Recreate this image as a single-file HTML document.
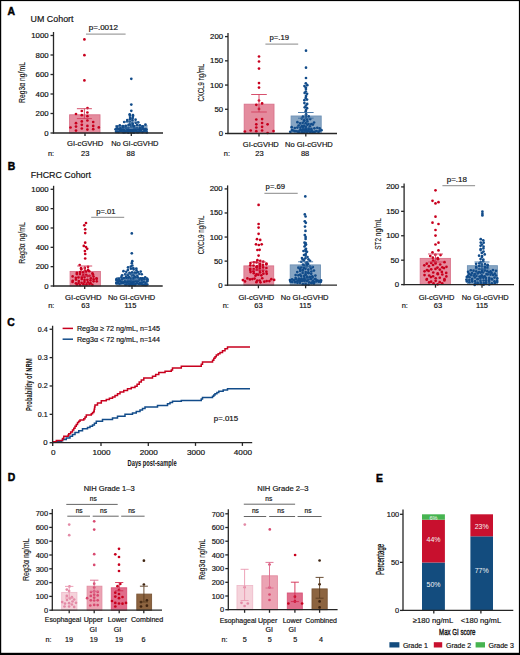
<!DOCTYPE html><html><head><meta charset="utf-8"><style>html,body{margin:0;padding:0;background:#fff;}svg{display:block;}</style></head><body>
<svg width="520" height="655" viewBox="0 0 520 655" font-family='"Liberation Sans", sans-serif'>
<rect x="0" y="0" width="520" height="655" fill="#fff"/>
<rect x="0" y="0" width="520" height="1.1" fill="#000"/><rect x="0" y="0" width="1.2" height="655" fill="#000"/><rect x="518.9" y="0" width="1.1" height="655" fill="#000"/><rect x="0" y="652.8" width="520" height="2.2" fill="#000"/>
<text x="7.5" y="15.1" font-size="10.4" text-anchor="start" fill="#000" font-weight="bold" stroke="#000" stroke-width="0.45">A</text>
<text x="7.8" y="170.3" font-size="10.4" text-anchor="start" fill="#000" font-weight="bold" stroke="#000" stroke-width="0.45">B</text>
<text x="7.2" y="325.5" font-size="10.4" text-anchor="start" fill="#000" font-weight="bold" stroke="#000" stroke-width="0.45">C</text>
<text x="7.8" y="481.2" font-size="10.4" text-anchor="start" fill="#000" font-weight="bold" stroke="#000" stroke-width="0.45">D</text>
<text x="376" y="481.8" font-size="10.4" text-anchor="start" fill="#000" font-weight="bold" stroke="#000" stroke-width="0.45">E</text>
<text x="30.6" y="21.9" font-size="8.9" text-anchor="start" fill="#111" font-weight="normal" stroke="#111" stroke-width="0.18" >UM Cohort</text>
<text x="30.8" y="177.8" font-size="8.9" text-anchor="start" fill="#111" font-weight="normal" stroke="#111" stroke-width="0.18" >FHCRC Cohort</text>
<rect x="69.6" y="114.8" width="30.4" height="18.2" fill="#e48c9e" stroke="#d9728a" stroke-width="0.9"/>
<rect x="115.8" y="125.5" width="31.2" height="7.5" fill="#87a5c3" stroke="#6f92b6" stroke-width="0.9"/>
<circle cx="84.4" cy="39.4" r="1.35" fill="#c8001e"/>
<circle cx="84.4" cy="55.2" r="1.35" fill="#c8001e"/>
<circle cx="84.4" cy="80.4" r="1.35" fill="#c8001e"/>
<circle cx="87.5" cy="108.1" r="1.35" fill="#c8001e"/>
<circle cx="70.5" cy="127.5" r="1.35" fill="#c8001e"/>
<circle cx="76" cy="130.6" r="1.35" fill="#c8001e"/>
<circle cx="76" cy="126.6" r="1.35" fill="#c8001e"/>
<circle cx="76" cy="123.2" r="1.35" fill="#c8001e"/>
<circle cx="76" cy="114" r="1.35" fill="#c8001e"/>
<circle cx="81.8" cy="111" r="1.35" fill="#c8001e"/>
<circle cx="81.8" cy="115.2" r="1.35" fill="#c8001e"/>
<circle cx="81.8" cy="121.4" r="1.35" fill="#c8001e"/>
<circle cx="81.8" cy="124.8" r="1.35" fill="#c8001e"/>
<circle cx="81.8" cy="128.5" r="1.35" fill="#c8001e"/>
<circle cx="87.4" cy="112.5" r="1.35" fill="#c8001e"/>
<circle cx="87.4" cy="116.2" r="1.35" fill="#c8001e"/>
<circle cx="87.4" cy="120.5" r="1.35" fill="#c8001e"/>
<circle cx="87.4" cy="125.9" r="1.35" fill="#c8001e"/>
<circle cx="87.4" cy="129.6" r="1.35" fill="#c8001e"/>
<circle cx="93.2" cy="122" r="1.35" fill="#c8001e"/>
<circle cx="93.2" cy="125.9" r="1.35" fill="#c8001e"/>
<circle cx="93.2" cy="129.2" r="1.35" fill="#c8001e"/>
<circle cx="98.8" cy="127.4" r="1.35" fill="#c8001e"/>
<circle cx="131.3" cy="78.8" r="1.35" fill="#124c8a"/>
<circle cx="131.3" cy="104.6" r="1.35" fill="#124c8a"/>
<circle cx="131.3" cy="110.8" r="1.35" fill="#124c8a"/>
<circle cx="129.7" cy="114.3" r="1.35" fill="#124c8a"/>
<circle cx="132.97" cy="115.22" r="1.35" fill="#124c8a"/>
<circle cx="129.88" cy="115.72" r="1.35" fill="#124c8a"/>
<circle cx="132.89" cy="116.86" r="1.35" fill="#124c8a"/>
<circle cx="130.13" cy="118.05" r="1.35" fill="#124c8a"/>
<circle cx="132.55" cy="118.42" r="1.35" fill="#124c8a"/>
<circle cx="127.28" cy="120.06" r="1.35" fill="#124c8a"/>
<circle cx="130.04" cy="119.16" r="1.35" fill="#124c8a"/>
<circle cx="132.45" cy="120.45" r="1.35" fill="#124c8a"/>
<circle cx="135.57" cy="119.67" r="1.35" fill="#124c8a"/>
<circle cx="124.2" cy="121.98" r="1.35" fill="#124c8a"/>
<circle cx="127.19" cy="121.24" r="1.35" fill="#124c8a"/>
<circle cx="129.8" cy="121.53" r="1.35" fill="#124c8a"/>
<circle cx="132.42" cy="123.24" r="1.35" fill="#124c8a"/>
<circle cx="135.77" cy="122.81" r="1.35" fill="#124c8a"/>
<circle cx="138.24" cy="122.3" r="1.35" fill="#124c8a"/>
<circle cx="129.88" cy="124.46" r="1.35" fill="#124c8a"/>
<circle cx="132.77" cy="124.01" r="1.35" fill="#124c8a"/>
<circle cx="117.09" cy="126.56" r="1.35" fill="#124c8a"/>
<circle cx="119.81" cy="125.38" r="1.35" fill="#124c8a"/>
<circle cx="122.93" cy="126.16" r="1.35" fill="#124c8a"/>
<circle cx="125.78" cy="125.74" r="1.35" fill="#124c8a"/>
<circle cx="128.57" cy="124.75" r="1.35" fill="#124c8a"/>
<circle cx="131.55" cy="125.51" r="1.35" fill="#124c8a"/>
<circle cx="134.11" cy="126.08" r="1.35" fill="#124c8a"/>
<circle cx="137.19" cy="124.96" r="1.35" fill="#124c8a"/>
<circle cx="139.91" cy="125.23" r="1.35" fill="#124c8a"/>
<circle cx="142.73" cy="126.45" r="1.35" fill="#124c8a"/>
<circle cx="145.46" cy="124.61" r="1.35" fill="#124c8a"/>
<circle cx="120.31" cy="128.45" r="1.35" fill="#124c8a"/>
<circle cx="122.92" cy="127.28" r="1.35" fill="#124c8a"/>
<circle cx="125.54" cy="127.56" r="1.35" fill="#124c8a"/>
<circle cx="128.43" cy="127.86" r="1.35" fill="#124c8a"/>
<circle cx="131.39" cy="126.82" r="1.35" fill="#124c8a"/>
<circle cx="134" cy="127.38" r="1.35" fill="#124c8a"/>
<circle cx="136.85" cy="128.16" r="1.35" fill="#124c8a"/>
<circle cx="139.79" cy="127.92" r="1.35" fill="#124c8a"/>
<circle cx="142.37" cy="127" r="1.35" fill="#124c8a"/>
<circle cx="115.5" cy="129.32" r="1.35" fill="#124c8a"/>
<circle cx="117.19" cy="128.69" r="1.35" fill="#124c8a"/>
<circle cx="118.83" cy="129" r="1.35" fill="#124c8a"/>
<circle cx="120.28" cy="128.85" r="1.35" fill="#124c8a"/>
<circle cx="121.86" cy="129.82" r="1.35" fill="#124c8a"/>
<circle cx="123.47" cy="129.54" r="1.35" fill="#124c8a"/>
<circle cx="124.37" cy="130.33" r="1.35" fill="#124c8a"/>
<circle cx="126.36" cy="128.6" r="1.35" fill="#124c8a"/>
<circle cx="127.75" cy="129.78" r="1.35" fill="#124c8a"/>
<circle cx="129.23" cy="130.27" r="1.35" fill="#124c8a"/>
<circle cx="130.49" cy="130.04" r="1.35" fill="#124c8a"/>
<circle cx="132.17" cy="130.19" r="1.35" fill="#124c8a"/>
<circle cx="133.5" cy="129.95" r="1.35" fill="#124c8a"/>
<circle cx="134.98" cy="128.93" r="1.35" fill="#124c8a"/>
<circle cx="136.19" cy="130.44" r="1.35" fill="#124c8a"/>
<circle cx="137.84" cy="129.4" r="1.35" fill="#124c8a"/>
<circle cx="139.48" cy="130.06" r="1.35" fill="#124c8a"/>
<circle cx="140.68" cy="129.42" r="1.35" fill="#124c8a"/>
<circle cx="142.63" cy="128.55" r="1.35" fill="#124c8a"/>
<circle cx="143.77" cy="129.22" r="1.35" fill="#124c8a"/>
<circle cx="145.44" cy="129.07" r="1.35" fill="#124c8a"/>
<circle cx="146.57" cy="129.64" r="1.35" fill="#124c8a"/>
<circle cx="116.06" cy="131.68" r="1.35" fill="#124c8a"/>
<circle cx="117.38" cy="131.6" r="1.35" fill="#124c8a"/>
<circle cx="118.53" cy="131.9" r="1.35" fill="#124c8a"/>
<circle cx="120.2" cy="130.97" r="1.35" fill="#124c8a"/>
<circle cx="121.56" cy="131.25" r="1.35" fill="#124c8a"/>
<circle cx="123.37" cy="132.37" r="1.35" fill="#124c8a"/>
<circle cx="124.72" cy="132.27" r="1.35" fill="#124c8a"/>
<circle cx="126.15" cy="131.46" r="1.35" fill="#124c8a"/>
<circle cx="127.75" cy="131.1" r="1.35" fill="#124c8a"/>
<circle cx="129.14" cy="130.8" r="1.35" fill="#124c8a"/>
<circle cx="130.61" cy="130.99" r="1.35" fill="#124c8a"/>
<circle cx="131.76" cy="131.42" r="1.35" fill="#124c8a"/>
<circle cx="133.29" cy="132" r="1.35" fill="#124c8a"/>
<circle cx="134.75" cy="130.66" r="1.35" fill="#124c8a"/>
<circle cx="136.49" cy="131.88" r="1.35" fill="#124c8a"/>
<circle cx="137.93" cy="132.17" r="1.35" fill="#124c8a"/>
<circle cx="139.54" cy="131.74" r="1.35" fill="#124c8a"/>
<circle cx="140.8" cy="130.7" r="1.35" fill="#124c8a"/>
<circle cx="142.38" cy="132.08" r="1.35" fill="#124c8a"/>
<circle cx="144.11" cy="131.23" r="1.35" fill="#124c8a"/>
<circle cx="145.06" cy="130.58" r="1.35" fill="#124c8a"/>
<circle cx="146.84" cy="132.46" r="1.35" fill="#124c8a"/>
<circle cx="128.32" cy="132.73" r="1.35" fill="#124c8a"/>
<circle cx="131.55" cy="132.58" r="1.35" fill="#124c8a"/>
<circle cx="133.88" cy="132.69" r="1.35" fill="#124c8a"/>
<line x1="84.4" y1="108.7" x2="84.4" y2="118.6" stroke="#d0405c" stroke-width="0.9"/>
<line x1="76.9" y1="108.7" x2="91.9" y2="108.7" stroke="#d0405c" stroke-width="0.9"/>
<line x1="76.9" y1="118.6" x2="91.9" y2="118.6" stroke="#d0405c" stroke-width="0.9"/>
<line x1="131.3" y1="122" x2="131.3" y2="128" stroke="#3c6ea0" stroke-width="0.9"/>
<line x1="123.8" y1="122" x2="138.8" y2="122" stroke="#3c6ea0" stroke-width="0.9"/>
<line x1="123.8" y1="128" x2="138.8" y2="128" stroke="#3c6ea0" stroke-width="0.9"/>
<line x1="53.5" y1="32" x2="53.5" y2="133.6" stroke="#262626" stroke-width="1.3"/>
<line x1="50.5" y1="133" x2="53.5" y2="133" stroke="#262626" stroke-width="1.3"/>
<text x="48.6" y="135.5" font-size="7.1" text-anchor="end" fill="#111" font-weight="normal" textLength="4.34" lengthAdjust="spacingAndGlyphs" stroke="#111" stroke-width="0.18" >0</text>
<line x1="50.5" y1="113.5" x2="53.5" y2="113.5" stroke="#262626" stroke-width="1.3"/>
<text x="48.6" y="116" font-size="7.1" text-anchor="end" fill="#111" font-weight="normal" textLength="13.03" lengthAdjust="spacingAndGlyphs" stroke="#111" stroke-width="0.18" >200</text>
<line x1="50.5" y1="94" x2="53.5" y2="94" stroke="#262626" stroke-width="1.3"/>
<text x="48.6" y="96.5" font-size="7.1" text-anchor="end" fill="#111" font-weight="normal" textLength="13.03" lengthAdjust="spacingAndGlyphs" stroke="#111" stroke-width="0.18" >400</text>
<line x1="50.5" y1="74.5" x2="53.5" y2="74.5" stroke="#262626" stroke-width="1.3"/>
<text x="48.6" y="77" font-size="7.1" text-anchor="end" fill="#111" font-weight="normal" textLength="13.03" lengthAdjust="spacingAndGlyphs" stroke="#111" stroke-width="0.18" >600</text>
<line x1="50.5" y1="55" x2="53.5" y2="55" stroke="#262626" stroke-width="1.3"/>
<text x="48.6" y="57.5" font-size="7.1" text-anchor="end" fill="#111" font-weight="normal" textLength="13.03" lengthAdjust="spacingAndGlyphs" stroke="#111" stroke-width="0.18" >800</text>
<line x1="50.5" y1="35.5" x2="53.5" y2="35.5" stroke="#262626" stroke-width="1.3"/>
<text x="48.6" y="38" font-size="7.1" text-anchor="end" fill="#111" font-weight="normal" textLength="17.37" lengthAdjust="spacingAndGlyphs" stroke="#111" stroke-width="0.18" >1000</text>
<line x1="52.9" y1="133" x2="163" y2="133" stroke="#262626" stroke-width="1.3"/>
<line x1="85" y1="133" x2="85" y2="136.1" stroke="#262626" stroke-width="1.3"/>
<line x1="131.3" y1="133" x2="131.3" y2="136.1" stroke="#262626" stroke-width="1.3"/>
<line x1="86" y1="34.1" x2="125.6" y2="34.1" stroke="#a0a0a0" stroke-width="1.3"/>
<text x="88.7" y="30.4" font-size="7.6" text-anchor="start" fill="#111" font-weight="normal" textLength="29.4" lengthAdjust="spacingAndGlyphs" stroke="#111" stroke-width="0.18" >p=.0012</text>
<text transform="translate(25.1,82.5) rotate(-90)" x="0" y="0" font-size="9.9" font-weight="normal" stroke="#111" stroke-width="0.12" text-anchor="middle" fill="#111" textLength="40.8" lengthAdjust="spacingAndGlyphs">Reg3α ng/mL</text>
<text x="85.2" y="146.2" font-size="7.5" text-anchor="middle" fill="#111" font-weight="normal" textLength="36.2" lengthAdjust="spacingAndGlyphs" stroke="#111" stroke-width="0.18" >GI-cGVHD</text>
<text x="134.85" y="146.2" font-size="7.5" text-anchor="middle" fill="#111" font-weight="normal" textLength="47.3" lengthAdjust="spacingAndGlyphs" stroke="#111" stroke-width="0.18" >No GI-cGVHD</text>
<text x="47.9" y="155.8" font-size="7.4" text-anchor="start" fill="#111" font-weight="normal" stroke="#111" stroke-width="0.18" >n:</text>
<text x="85.2" y="155.8" font-size="7.5" text-anchor="middle" fill="#111" font-weight="normal" stroke="#111" stroke-width="0.18" >23</text>
<text x="130.7" y="155.8" font-size="7.5" text-anchor="middle" fill="#111" font-weight="normal" stroke="#111" stroke-width="0.18" >88</text>
<rect x="244.2" y="104.2" width="29.8" height="29.3" fill="#e48c9e" stroke="#d9728a" stroke-width="0.9"/>
<rect x="291.1" y="116" width="30.1" height="17.5" fill="#87a5c3" stroke="#6f92b6" stroke-width="0.9"/>
<circle cx="259" cy="56.5" r="1.35" fill="#c8001e"/>
<circle cx="259" cy="61.5" r="1.35" fill="#c8001e"/>
<circle cx="259" cy="68.6" r="1.35" fill="#c8001e"/>
<circle cx="259" cy="83.1" r="1.35" fill="#c8001e"/>
<circle cx="259" cy="87.6" r="1.35" fill="#c8001e"/>
<circle cx="259" cy="100.5" r="1.35" fill="#c8001e"/>
<circle cx="256.3" cy="104.8" r="1.35" fill="#c8001e"/>
<circle cx="262.1" cy="103.4" r="1.35" fill="#c8001e"/>
<circle cx="259" cy="108.9" r="1.35" fill="#c8001e"/>
<circle cx="256.3" cy="119.5" r="1.35" fill="#c8001e"/>
<circle cx="262.1" cy="119.1" r="1.35" fill="#c8001e"/>
<circle cx="256.3" cy="124.3" r="1.35" fill="#c8001e"/>
<circle cx="262.1" cy="123" r="1.35" fill="#c8001e"/>
<circle cx="267.6" cy="124.3" r="1.35" fill="#c8001e"/>
<circle cx="256.3" cy="127.5" r="1.35" fill="#c8001e"/>
<circle cx="262.1" cy="126.8" r="1.35" fill="#c8001e"/>
<circle cx="244.9" cy="131.5" r="1.35" fill="#c8001e"/>
<circle cx="250.7" cy="130.5" r="1.35" fill="#c8001e"/>
<circle cx="256.3" cy="131.2" r="1.35" fill="#c8001e"/>
<circle cx="262.1" cy="130.5" r="1.35" fill="#c8001e"/>
<circle cx="267.6" cy="133" r="1.35" fill="#c8001e"/>
<circle cx="273.5" cy="131" r="1.35" fill="#c8001e"/>
<circle cx="306" cy="50.7" r="1.35" fill="#124c8a"/>
<circle cx="306" cy="67.7" r="1.35" fill="#124c8a"/>
<circle cx="306" cy="78" r="1.35" fill="#124c8a"/>
<circle cx="305.83" cy="83.36" r="1.35" fill="#124c8a"/>
<circle cx="304.47" cy="86.1" r="1.35" fill="#124c8a"/>
<circle cx="307.28" cy="85.18" r="1.35" fill="#124c8a"/>
<circle cx="305.81" cy="87.49" r="1.35" fill="#124c8a"/>
<circle cx="305.94" cy="89.03" r="1.35" fill="#124c8a"/>
<circle cx="305.85" cy="91.48" r="1.35" fill="#124c8a"/>
<circle cx="304.66" cy="92.91" r="1.35" fill="#124c8a"/>
<circle cx="307.07" cy="93.86" r="1.35" fill="#124c8a"/>
<circle cx="306.03" cy="95.94" r="1.35" fill="#124c8a"/>
<circle cx="305.72" cy="97.92" r="1.35" fill="#124c8a"/>
<circle cx="304.38" cy="100.2" r="1.35" fill="#124c8a"/>
<circle cx="307.03" cy="99.56" r="1.35" fill="#124c8a"/>
<circle cx="304.42" cy="103.08" r="1.35" fill="#124c8a"/>
<circle cx="307.19" cy="103.97" r="1.35" fill="#124c8a"/>
<circle cx="305.93" cy="105.57" r="1.35" fill="#124c8a"/>
<circle cx="304.73" cy="107.33" r="1.35" fill="#124c8a"/>
<circle cx="307.07" cy="108.2" r="1.35" fill="#124c8a"/>
<circle cx="306" cy="110.08" r="1.35" fill="#124c8a"/>
<circle cx="305.68" cy="111.62" r="1.35" fill="#124c8a"/>
<circle cx="306.08" cy="114.22" r="1.35" fill="#124c8a"/>
<circle cx="305.86" cy="115.84" r="1.35" fill="#124c8a"/>
<circle cx="302.93" cy="116.68" r="1.35" fill="#124c8a"/>
<circle cx="305.88" cy="117.92" r="1.35" fill="#124c8a"/>
<circle cx="308.68" cy="116.41" r="1.35" fill="#124c8a"/>
<circle cx="301.72" cy="118.58" r="1.35" fill="#124c8a"/>
<circle cx="304.17" cy="120.31" r="1.35" fill="#124c8a"/>
<circle cx="307.18" cy="119.42" r="1.35" fill="#124c8a"/>
<circle cx="310.27" cy="119.12" r="1.35" fill="#124c8a"/>
<circle cx="304.22" cy="120.75" r="1.35" fill="#124c8a"/>
<circle cx="307.39" cy="121.47" r="1.35" fill="#124c8a"/>
<circle cx="297.39" cy="122.13" r="1.35" fill="#124c8a"/>
<circle cx="300.16" cy="123.44" r="1.35" fill="#124c8a"/>
<circle cx="302.75" cy="122.79" r="1.35" fill="#124c8a"/>
<circle cx="305.62" cy="123.17" r="1.35" fill="#124c8a"/>
<circle cx="308.53" cy="124.02" r="1.35" fill="#124c8a"/>
<circle cx="311.34" cy="124.15" r="1.35" fill="#124c8a"/>
<circle cx="314.06" cy="122.52" r="1.35" fill="#124c8a"/>
<circle cx="298.61" cy="125.51" r="1.35" fill="#124c8a"/>
<circle cx="301.77" cy="125.95" r="1.35" fill="#124c8a"/>
<circle cx="304.15" cy="125.72" r="1.35" fill="#124c8a"/>
<circle cx="307.34" cy="124.87" r="1.35" fill="#124c8a"/>
<circle cx="309.85" cy="126.3" r="1.35" fill="#124c8a"/>
<circle cx="312.91" cy="124.57" r="1.35" fill="#124c8a"/>
<circle cx="305.9" cy="126.78" r="1.35" fill="#124c8a"/>
<circle cx="291.66" cy="127.16" r="1.35" fill="#124c8a"/>
<circle cx="294.8" cy="127.99" r="1.35" fill="#124c8a"/>
<circle cx="297.4" cy="127.54" r="1.35" fill="#124c8a"/>
<circle cx="300.42" cy="127.67" r="1.35" fill="#124c8a"/>
<circle cx="303.07" cy="127.22" r="1.35" fill="#124c8a"/>
<circle cx="305.59" cy="128.53" r="1.35" fill="#124c8a"/>
<circle cx="308.53" cy="128.69" r="1.35" fill="#124c8a"/>
<circle cx="311.38" cy="128.91" r="1.35" fill="#124c8a"/>
<circle cx="314.39" cy="128.3" r="1.35" fill="#124c8a"/>
<circle cx="317.26" cy="127.75" r="1.35" fill="#124c8a"/>
<circle cx="319.61" cy="128.4" r="1.35" fill="#124c8a"/>
<circle cx="300.49" cy="129.74" r="1.35" fill="#124c8a"/>
<circle cx="303" cy="129.45" r="1.35" fill="#124c8a"/>
<circle cx="305.75" cy="129.31" r="1.35" fill="#124c8a"/>
<circle cx="308.7" cy="129.21" r="1.35" fill="#124c8a"/>
<circle cx="311.38" cy="129.97" r="1.35" fill="#124c8a"/>
<circle cx="290.28" cy="131.84" r="1.35" fill="#124c8a"/>
<circle cx="292.02" cy="130.1" r="1.35" fill="#124c8a"/>
<circle cx="293.15" cy="130.49" r="1.35" fill="#124c8a"/>
<circle cx="294.81" cy="131.14" r="1.35" fill="#124c8a"/>
<circle cx="296.6" cy="131.25" r="1.35" fill="#124c8a"/>
<circle cx="298.22" cy="131.65" r="1.35" fill="#124c8a"/>
<circle cx="299.73" cy="130.57" r="1.35" fill="#124c8a"/>
<circle cx="301.44" cy="130.3" r="1.35" fill="#124c8a"/>
<circle cx="302.42" cy="131.68" r="1.35" fill="#124c8a"/>
<circle cx="304.49" cy="130.33" r="1.35" fill="#124c8a"/>
<circle cx="305.82" cy="130.71" r="1.35" fill="#124c8a"/>
<circle cx="307.27" cy="130.76" r="1.35" fill="#124c8a"/>
<circle cx="308.73" cy="131.21" r="1.35" fill="#124c8a"/>
<circle cx="310.23" cy="131.97" r="1.35" fill="#124c8a"/>
<circle cx="312.25" cy="131.41" r="1.35" fill="#124c8a"/>
<circle cx="313.83" cy="132.05" r="1.35" fill="#124c8a"/>
<circle cx="315.22" cy="131.55" r="1.35" fill="#124c8a"/>
<circle cx="316.57" cy="131.01" r="1.35" fill="#124c8a"/>
<circle cx="318.45" cy="132.09" r="1.35" fill="#124c8a"/>
<circle cx="319.61" cy="130.85" r="1.35" fill="#124c8a"/>
<circle cx="321.47" cy="130.16" r="1.35" fill="#124c8a"/>
<circle cx="298.89" cy="132.6" r="1.35" fill="#124c8a"/>
<circle cx="301.61" cy="132.53" r="1.35" fill="#124c8a"/>
<circle cx="304.33" cy="132.28" r="1.35" fill="#124c8a"/>
<circle cx="306.99" cy="132.44" r="1.35" fill="#124c8a"/>
<circle cx="309.99" cy="132.77" r="1.35" fill="#124c8a"/>
<circle cx="313" cy="132.26" r="1.35" fill="#124c8a"/>
<line x1="259" y1="94.5" x2="259" y2="112" stroke="#d23c5c" stroke-width="0.9"/>
<line x1="251.2" y1="94.5" x2="266.8" y2="94.5" stroke="#d23c5c" stroke-width="0.9"/>
<line x1="251.2" y1="112" x2="266.8" y2="112" stroke="#d23c5c" stroke-width="0.9"/>
<line x1="305.8" y1="112.5" x2="305.8" y2="118.2" stroke="#3c6ea0" stroke-width="0.9"/>
<line x1="298" y1="112.5" x2="313.6" y2="112.5" stroke="#3c6ea0" stroke-width="0.9"/>
<line x1="298" y1="118.2" x2="313.6" y2="118.2" stroke="#3c6ea0" stroke-width="0.9"/>
<line x1="228" y1="33.1" x2="228" y2="134.1" stroke="#262626" stroke-width="1.3"/>
<line x1="225" y1="133.5" x2="228" y2="133.5" stroke="#262626" stroke-width="1.3"/>
<text x="223.1" y="136" font-size="7.1" text-anchor="end" fill="#111" font-weight="normal" textLength="4.34" lengthAdjust="spacingAndGlyphs" stroke="#111" stroke-width="0.18" >0</text>
<line x1="225" y1="109.28" x2="228" y2="109.28" stroke="#262626" stroke-width="1.3"/>
<text x="223.1" y="111.78" font-size="7.1" text-anchor="end" fill="#111" font-weight="normal" textLength="8.68" lengthAdjust="spacingAndGlyphs" stroke="#111" stroke-width="0.18" >50</text>
<line x1="225" y1="85.05" x2="228" y2="85.05" stroke="#262626" stroke-width="1.3"/>
<text x="223.1" y="87.55" font-size="7.1" text-anchor="end" fill="#111" font-weight="normal" textLength="13.03" lengthAdjust="spacingAndGlyphs" stroke="#111" stroke-width="0.18" >100</text>
<line x1="225" y1="60.83" x2="228" y2="60.83" stroke="#262626" stroke-width="1.3"/>
<text x="223.1" y="63.33" font-size="7.1" text-anchor="end" fill="#111" font-weight="normal" textLength="13.03" lengthAdjust="spacingAndGlyphs" stroke="#111" stroke-width="0.18" >150</text>
<line x1="225" y1="36.6" x2="228" y2="36.6" stroke="#262626" stroke-width="1.3"/>
<text x="223.1" y="39.1" font-size="7.1" text-anchor="end" fill="#111" font-weight="normal" textLength="13.03" lengthAdjust="spacingAndGlyphs" stroke="#111" stroke-width="0.18" >200</text>
<line x1="227.4" y1="133.5" x2="337" y2="133.5" stroke="#262626" stroke-width="1.3"/>
<line x1="259" y1="133.5" x2="259" y2="136.6" stroke="#262626" stroke-width="1.3"/>
<line x1="305.8" y1="133.5" x2="305.8" y2="136.6" stroke="#262626" stroke-width="1.3"/>
<line x1="265.4" y1="44.2" x2="298.2" y2="44.2" stroke="#a0a0a0" stroke-width="1.3"/>
<text x="269.5" y="40.3" font-size="7.6" text-anchor="start" fill="#111" font-weight="normal" textLength="19.5" lengthAdjust="spacingAndGlyphs" stroke="#111" stroke-width="0.18" >p=.19</text>
<text transform="translate(204,82.7) rotate(-90)" x="0" y="0" font-size="9.9" font-weight="normal" stroke="#111" stroke-width="0.12" text-anchor="middle" fill="#111" textLength="37.8" lengthAdjust="spacingAndGlyphs">CXCL9 ng/mL</text>
<text x="260.8" y="146.5" font-size="7.5" text-anchor="middle" fill="#111" font-weight="normal" textLength="36" lengthAdjust="spacingAndGlyphs" stroke="#111" stroke-width="0.18" >GI-cGVHD</text>
<text x="308.9" y="146.5" font-size="7.5" text-anchor="middle" fill="#111" font-weight="normal" textLength="47.8" lengthAdjust="spacingAndGlyphs" stroke="#111" stroke-width="0.18" >No GI-cGVHD</text>
<text x="223.8" y="156" font-size="7.4" text-anchor="start" fill="#111" font-weight="normal" stroke="#111" stroke-width="0.18" >n:</text>
<text x="259.5" y="156" font-size="7.5" text-anchor="middle" fill="#111" font-weight="normal" stroke="#111" stroke-width="0.18" >23</text>
<text x="305.1" y="156" font-size="7.5" text-anchor="middle" fill="#111" font-weight="normal" stroke="#111" stroke-width="0.18" >88</text>
<rect x="70.1" y="271.5" width="30.3" height="14.5" fill="#e48c9e" stroke="#d9728a" stroke-width="0.9"/>
<rect x="117" y="277.5" width="30.2" height="8.5" fill="#87a5c3" stroke="#6f92b6" stroke-width="0.9"/>
<circle cx="86" cy="223" r="1.35" fill="#c8001e"/>
<circle cx="84.3" cy="225.3" r="1.35" fill="#c8001e"/>
<circle cx="85.2" cy="229.3" r="1.35" fill="#c8001e"/>
<circle cx="85.2" cy="233.1" r="1.35" fill="#c8001e"/>
<circle cx="85.2" cy="242.7" r="1.35" fill="#c8001e"/>
<circle cx="83.8" cy="245.9" r="1.35" fill="#c8001e"/>
<circle cx="86" cy="247.1" r="1.35" fill="#c8001e"/>
<circle cx="87.2" cy="248.8" r="1.35" fill="#c8001e"/>
<circle cx="84.9" cy="251.1" r="1.35" fill="#c8001e"/>
<circle cx="85.2" cy="254" r="1.35" fill="#c8001e"/>
<circle cx="85.2" cy="258.5" r="1.35" fill="#c8001e"/>
<circle cx="79.7" cy="265" r="1.35" fill="#c8001e"/>
<circle cx="81.1" cy="268.14" r="1.35" fill="#c8001e"/>
<circle cx="84.79" cy="267.89" r="1.35" fill="#c8001e"/>
<circle cx="88.01" cy="266.79" r="1.35" fill="#c8001e"/>
<circle cx="81.33" cy="269.38" r="1.35" fill="#c8001e"/>
<circle cx="84.92" cy="270.48" r="1.35" fill="#c8001e"/>
<circle cx="88.1" cy="269.93" r="1.35" fill="#c8001e"/>
<circle cx="76.89" cy="272.84" r="1.35" fill="#c8001e"/>
<circle cx="80.1" cy="272.03" r="1.35" fill="#c8001e"/>
<circle cx="83.02" cy="272.47" r="1.35" fill="#c8001e"/>
<circle cx="86.08" cy="271.56" r="1.35" fill="#c8001e"/>
<circle cx="89.3" cy="271.25" r="1.35" fill="#c8001e"/>
<circle cx="92.43" cy="273.3" r="1.35" fill="#c8001e"/>
<circle cx="76.8" cy="274.07" r="1.35" fill="#c8001e"/>
<circle cx="79.99" cy="273.91" r="1.35" fill="#c8001e"/>
<circle cx="83.19" cy="275.32" r="1.35" fill="#c8001e"/>
<circle cx="86.19" cy="274.83" r="1.35" fill="#c8001e"/>
<circle cx="89.51" cy="275.87" r="1.35" fill="#c8001e"/>
<circle cx="92.97" cy="274.54" r="1.35" fill="#c8001e"/>
<circle cx="72.63" cy="276.38" r="1.35" fill="#c8001e"/>
<circle cx="75.83" cy="277.86" r="1.35" fill="#c8001e"/>
<circle cx="78.49" cy="277.42" r="1.35" fill="#c8001e"/>
<circle cx="81.87" cy="277.36" r="1.35" fill="#c8001e"/>
<circle cx="84.57" cy="277.11" r="1.35" fill="#c8001e"/>
<circle cx="87.59" cy="276.09" r="1.35" fill="#c8001e"/>
<circle cx="90.89" cy="278.23" r="1.35" fill="#c8001e"/>
<circle cx="93.52" cy="276.59" r="1.35" fill="#c8001e"/>
<circle cx="96.44" cy="278.4" r="1.35" fill="#c8001e"/>
<circle cx="72.69" cy="280.77" r="1.35" fill="#c8001e"/>
<circle cx="75.98" cy="279.58" r="1.35" fill="#c8001e"/>
<circle cx="78.81" cy="281.01" r="1.35" fill="#c8001e"/>
<circle cx="81.72" cy="279.04" r="1.35" fill="#c8001e"/>
<circle cx="84.54" cy="279.95" r="1.35" fill="#c8001e"/>
<circle cx="87.42" cy="279.79" r="1.35" fill="#c8001e"/>
<circle cx="90.47" cy="280.39" r="1.35" fill="#c8001e"/>
<circle cx="93.65" cy="279.24" r="1.35" fill="#c8001e"/>
<circle cx="96.73" cy="278.74" r="1.35" fill="#c8001e"/>
<circle cx="72.54" cy="281.92" r="1.35" fill="#c8001e"/>
<circle cx="75.99" cy="283.36" r="1.35" fill="#c8001e"/>
<circle cx="78.64" cy="283.01" r="1.35" fill="#c8001e"/>
<circle cx="81.54" cy="282.73" r="1.35" fill="#c8001e"/>
<circle cx="84.46" cy="282.02" r="1.35" fill="#c8001e"/>
<circle cx="87.8" cy="282.24" r="1.35" fill="#c8001e"/>
<circle cx="90.51" cy="283.22" r="1.35" fill="#c8001e"/>
<circle cx="93.6" cy="281.37" r="1.35" fill="#c8001e"/>
<circle cx="96.75" cy="281.31" r="1.35" fill="#c8001e"/>
<circle cx="76.98" cy="284.65" r="1.35" fill="#c8001e"/>
<circle cx="80.05" cy="285.02" r="1.35" fill="#c8001e"/>
<circle cx="83.47" cy="284.16" r="1.35" fill="#c8001e"/>
<circle cx="86.5" cy="284.45" r="1.35" fill="#c8001e"/>
<circle cx="89.46" cy="283.89" r="1.35" fill="#c8001e"/>
<circle cx="92.37" cy="284.97" r="1.35" fill="#c8001e"/>
<circle cx="131.8" cy="233.4" r="1.35" fill="#124c8a"/>
<circle cx="131.8" cy="253.3" r="1.35" fill="#124c8a"/>
<circle cx="132.3" cy="261.2" r="1.35" fill="#124c8a"/>
<circle cx="131.8" cy="263.2" r="1.35" fill="#124c8a"/>
<circle cx="132.3" cy="265.5" r="1.35" fill="#124c8a"/>
<circle cx="128.06" cy="267.37" r="1.35" fill="#124c8a"/>
<circle cx="130.77" cy="266.58" r="1.35" fill="#124c8a"/>
<circle cx="133.3" cy="268.07" r="1.35" fill="#124c8a"/>
<circle cx="136.34" cy="268.58" r="1.35" fill="#124c8a"/>
<circle cx="127.88" cy="269.88" r="1.35" fill="#124c8a"/>
<circle cx="130.88" cy="268.76" r="1.35" fill="#124c8a"/>
<circle cx="133.62" cy="269.42" r="1.35" fill="#124c8a"/>
<circle cx="136.48" cy="270.47" r="1.35" fill="#124c8a"/>
<circle cx="123.47" cy="271.21" r="1.35" fill="#124c8a"/>
<circle cx="126.3" cy="271.83" r="1.35" fill="#124c8a"/>
<circle cx="129.42" cy="272.88" r="1.35" fill="#124c8a"/>
<circle cx="132.08" cy="272.46" r="1.35" fill="#124c8a"/>
<circle cx="134.64" cy="272.55" r="1.35" fill="#124c8a"/>
<circle cx="137.8" cy="272.02" r="1.35" fill="#124c8a"/>
<circle cx="140.68" cy="271.59" r="1.35" fill="#124c8a"/>
<circle cx="122.05" cy="275.37" r="1.35" fill="#124c8a"/>
<circle cx="125.16" cy="274.34" r="1.35" fill="#124c8a"/>
<circle cx="127.84" cy="274.97" r="1.35" fill="#124c8a"/>
<circle cx="130.48" cy="273.65" r="1.35" fill="#124c8a"/>
<circle cx="133.32" cy="274.64" r="1.35" fill="#124c8a"/>
<circle cx="135.92" cy="273.22" r="1.35" fill="#124c8a"/>
<circle cx="139.24" cy="273.87" r="1.35" fill="#124c8a"/>
<circle cx="141.72" cy="274.26" r="1.35" fill="#124c8a"/>
<circle cx="126.18" cy="276.63" r="1.35" fill="#124c8a"/>
<circle cx="129.31" cy="276.93" r="1.35" fill="#124c8a"/>
<circle cx="131.87" cy="275.56" r="1.35" fill="#124c8a"/>
<circle cx="134.53" cy="276.35" r="1.35" fill="#124c8a"/>
<circle cx="137.32" cy="275.85" r="1.35" fill="#124c8a"/>
<circle cx="116.48" cy="279.14" r="1.35" fill="#124c8a"/>
<circle cx="119.02" cy="278.83" r="1.35" fill="#124c8a"/>
<circle cx="121.4" cy="277.11" r="1.35" fill="#124c8a"/>
<circle cx="123.91" cy="278.07" r="1.35" fill="#124c8a"/>
<circle cx="126.25" cy="277.81" r="1.35" fill="#124c8a"/>
<circle cx="128.2" cy="277.72" r="1.35" fill="#124c8a"/>
<circle cx="130.69" cy="278.56" r="1.35" fill="#124c8a"/>
<circle cx="133.22" cy="278.19" r="1.35" fill="#124c8a"/>
<circle cx="135.51" cy="277.41" r="1.35" fill="#124c8a"/>
<circle cx="137.74" cy="277.47" r="1.35" fill="#124c8a"/>
<circle cx="140.58" cy="278.43" r="1.35" fill="#124c8a"/>
<circle cx="142.51" cy="278.23" r="1.35" fill="#124c8a"/>
<circle cx="145.18" cy="277.25" r="1.35" fill="#124c8a"/>
<circle cx="147.26" cy="278.92" r="1.35" fill="#124c8a"/>
<circle cx="116.53" cy="280.2" r="1.35" fill="#124c8a"/>
<circle cx="119.49" cy="280.4" r="1.35" fill="#124c8a"/>
<circle cx="122.1" cy="279.43" r="1.35" fill="#124c8a"/>
<circle cx="125.13" cy="280.96" r="1.35" fill="#124c8a"/>
<circle cx="128.01" cy="280.56" r="1.35" fill="#124c8a"/>
<circle cx="130.83" cy="280.27" r="1.35" fill="#124c8a"/>
<circle cx="133.24" cy="279.52" r="1.35" fill="#124c8a"/>
<circle cx="136.08" cy="280.83" r="1.35" fill="#124c8a"/>
<circle cx="139.04" cy="279.63" r="1.35" fill="#124c8a"/>
<circle cx="141.68" cy="280.06" r="1.35" fill="#124c8a"/>
<circle cx="144.38" cy="279.25" r="1.35" fill="#124c8a"/>
<circle cx="147.59" cy="279.8" r="1.35" fill="#124c8a"/>
<circle cx="116.38" cy="282.54" r="1.35" fill="#124c8a"/>
<circle cx="118.03" cy="281.68" r="1.35" fill="#124c8a"/>
<circle cx="120.33" cy="281.27" r="1.35" fill="#124c8a"/>
<circle cx="121.85" cy="282.45" r="1.35" fill="#124c8a"/>
<circle cx="123.66" cy="282.31" r="1.35" fill="#124c8a"/>
<circle cx="125.58" cy="282.15" r="1.35" fill="#124c8a"/>
<circle cx="127.5" cy="282.01" r="1.35" fill="#124c8a"/>
<circle cx="129.45" cy="281.41" r="1.35" fill="#124c8a"/>
<circle cx="131.02" cy="282.24" r="1.35" fill="#124c8a"/>
<circle cx="133.11" cy="281.9" r="1.35" fill="#124c8a"/>
<circle cx="134.65" cy="281.59" r="1.35" fill="#124c8a"/>
<circle cx="136.74" cy="281.49" r="1.35" fill="#124c8a"/>
<circle cx="138.13" cy="281.03" r="1.35" fill="#124c8a"/>
<circle cx="139.93" cy="282.81" r="1.35" fill="#124c8a"/>
<circle cx="141.78" cy="282.63" r="1.35" fill="#124c8a"/>
<circle cx="143.67" cy="281.8" r="1.35" fill="#124c8a"/>
<circle cx="145.53" cy="282.93" r="1.35" fill="#124c8a"/>
<circle cx="147.33" cy="281.21" r="1.35" fill="#124c8a"/>
<circle cx="116.36" cy="283.41" r="1.35" fill="#124c8a"/>
<circle cx="118.35" cy="283.24" r="1.35" fill="#124c8a"/>
<circle cx="119.69" cy="283.73" r="1.35" fill="#124c8a"/>
<circle cx="121.55" cy="283.06" r="1.35" fill="#124c8a"/>
<circle cx="123.3" cy="283.01" r="1.35" fill="#124c8a"/>
<circle cx="125.35" cy="284.76" r="1.35" fill="#124c8a"/>
<circle cx="126.58" cy="284.3" r="1.35" fill="#124c8a"/>
<circle cx="128.62" cy="283.5" r="1.35" fill="#124c8a"/>
<circle cx="130.5" cy="284.22" r="1.35" fill="#124c8a"/>
<circle cx="132.18" cy="283.85" r="1.35" fill="#124c8a"/>
<circle cx="133.64" cy="284.39" r="1.35" fill="#124c8a"/>
<circle cx="135.42" cy="284.03" r="1.35" fill="#124c8a"/>
<circle cx="137" cy="283.3" r="1.35" fill="#124c8a"/>
<circle cx="139.07" cy="284" r="1.35" fill="#124c8a"/>
<circle cx="140.57" cy="283.68" r="1.35" fill="#124c8a"/>
<circle cx="142.32" cy="284.56" r="1.35" fill="#124c8a"/>
<circle cx="144.14" cy="284.84" r="1.35" fill="#124c8a"/>
<circle cx="145.66" cy="284.89" r="1.35" fill="#124c8a"/>
<circle cx="147.3" cy="284.49" r="1.35" fill="#124c8a"/>
<circle cx="129.3" cy="285.29" r="1.35" fill="#124c8a"/>
<circle cx="131.94" cy="285.02" r="1.35" fill="#124c8a"/>
<circle cx="134.86" cy="285.11" r="1.35" fill="#124c8a"/>
<line x1="84.7" y1="266" x2="84.7" y2="276" stroke="#d23c5c" stroke-width="0.9"/>
<line x1="77.2" y1="266" x2="92.2" y2="266" stroke="#d23c5c" stroke-width="0.9"/>
<line x1="77.2" y1="276" x2="92.2" y2="276" stroke="#d23c5c" stroke-width="0.9"/>
<line x1="132" y1="274" x2="132" y2="280" stroke="#3c6ea0" stroke-width="0.9"/>
<line x1="124.5" y1="274" x2="139.5" y2="274" stroke="#3c6ea0" stroke-width="0.9"/>
<line x1="124.5" y1="280" x2="139.5" y2="280" stroke="#3c6ea0" stroke-width="0.9"/>
<line x1="53.6" y1="185.8" x2="53.6" y2="286.6" stroke="#262626" stroke-width="1.3"/>
<line x1="50.6" y1="286" x2="53.6" y2="286" stroke="#262626" stroke-width="1.3"/>
<text x="48.7" y="288.5" font-size="7.1" text-anchor="end" fill="#111" font-weight="normal" textLength="4.34" lengthAdjust="spacingAndGlyphs" stroke="#111" stroke-width="0.18" >0</text>
<line x1="50.6" y1="266.66" x2="53.6" y2="266.66" stroke="#262626" stroke-width="1.3"/>
<text x="48.7" y="269.16" font-size="7.1" text-anchor="end" fill="#111" font-weight="normal" textLength="13.03" lengthAdjust="spacingAndGlyphs" stroke="#111" stroke-width="0.18" >200</text>
<line x1="50.6" y1="247.32" x2="53.6" y2="247.32" stroke="#262626" stroke-width="1.3"/>
<text x="48.7" y="249.82" font-size="7.1" text-anchor="end" fill="#111" font-weight="normal" textLength="13.03" lengthAdjust="spacingAndGlyphs" stroke="#111" stroke-width="0.18" >400</text>
<line x1="50.6" y1="227.98" x2="53.6" y2="227.98" stroke="#262626" stroke-width="1.3"/>
<text x="48.7" y="230.48" font-size="7.1" text-anchor="end" fill="#111" font-weight="normal" textLength="13.03" lengthAdjust="spacingAndGlyphs" stroke="#111" stroke-width="0.18" >600</text>
<line x1="50.6" y1="208.64" x2="53.6" y2="208.64" stroke="#262626" stroke-width="1.3"/>
<text x="48.7" y="211.14" font-size="7.1" text-anchor="end" fill="#111" font-weight="normal" textLength="13.03" lengthAdjust="spacingAndGlyphs" stroke="#111" stroke-width="0.18" >800</text>
<line x1="50.6" y1="189.3" x2="53.6" y2="189.3" stroke="#262626" stroke-width="1.3"/>
<text x="48.7" y="191.8" font-size="7.1" text-anchor="end" fill="#111" font-weight="normal" textLength="17.37" lengthAdjust="spacingAndGlyphs" stroke="#111" stroke-width="0.18" >1000</text>
<line x1="53" y1="286" x2="162.7" y2="286" stroke="#262626" stroke-width="1.3"/>
<line x1="84.7" y1="286" x2="84.7" y2="289.1" stroke="#262626" stroke-width="1.3"/>
<line x1="132" y1="286" x2="132" y2="289.1" stroke="#262626" stroke-width="1.3"/>
<line x1="91.2" y1="217.3" x2="124.2" y2="217.3" stroke="#a0a0a0" stroke-width="1.3"/>
<text x="96.2" y="213.8" font-size="7.6" text-anchor="start" fill="#111" font-weight="normal" textLength="19.2" lengthAdjust="spacingAndGlyphs" stroke="#111" stroke-width="0.18" >p=.01</text>
<text transform="translate(25.1,243) rotate(-90)" x="0" y="0" font-size="9.9" font-weight="normal" stroke="#111" stroke-width="0.12" text-anchor="middle" fill="#111" textLength="41.5" lengthAdjust="spacingAndGlyphs">Reg3α ng/mL</text>
<text x="83.3" y="299.5" font-size="7.5" text-anchor="middle" fill="#111" font-weight="normal" textLength="36.4" lengthAdjust="spacingAndGlyphs" stroke="#111" stroke-width="0.18" >GI-cGVHD</text>
<text x="131.6" y="299.5" font-size="7.5" text-anchor="middle" fill="#111" font-weight="normal" textLength="47.3" lengthAdjust="spacingAndGlyphs" stroke="#111" stroke-width="0.18" >No GI-cGVHD</text>
<text x="48.2" y="308" font-size="7.4" text-anchor="start" fill="#111" font-weight="normal" stroke="#111" stroke-width="0.18" >n:</text>
<text x="85.5" y="308" font-size="7.5" text-anchor="middle" fill="#111" font-weight="normal" stroke="#111" stroke-width="0.18" >63</text>
<text x="130.4" y="308" font-size="7.5" text-anchor="middle" fill="#111" font-weight="normal" stroke="#111" stroke-width="0.18" >115</text>
<rect x="243.9" y="265.9" width="29.8" height="19.3" fill="#e48c9e" stroke="#d9728a" stroke-width="0.9"/>
<rect x="290.2" y="264.9" width="30.3" height="20.3" fill="#87a5c3" stroke="#6f92b6" stroke-width="0.9"/>
<circle cx="258.6" cy="204.9" r="1.35" fill="#c8001e"/>
<circle cx="258.6" cy="224" r="1.35" fill="#c8001e"/>
<circle cx="258.6" cy="227.6" r="1.35" fill="#c8001e"/>
<circle cx="258.6" cy="233.8" r="1.35" fill="#c8001e"/>
<circle cx="257" cy="239.2" r="1.35" fill="#c8001e"/>
<circle cx="260.2" cy="239.9" r="1.35" fill="#c8001e"/>
<circle cx="256" cy="244.3" r="1.35" fill="#c8001e"/>
<circle cx="258.8" cy="245" r="1.35" fill="#c8001e"/>
<circle cx="261.7" cy="244.3" r="1.35" fill="#c8001e"/>
<circle cx="257.4" cy="250" r="1.35" fill="#c8001e"/>
<circle cx="259.6" cy="249.8" r="1.35" fill="#c8001e"/>
<circle cx="258.6" cy="255.6" r="1.35" fill="#c8001e"/>
<circle cx="257.4" cy="260.2" r="1.35" fill="#c8001e"/>
<circle cx="260.3" cy="260.9" r="1.35" fill="#c8001e"/>
<circle cx="250.5" cy="263.11" r="1.35" fill="#c8001e"/>
<circle cx="253.86" cy="262.33" r="1.35" fill="#c8001e"/>
<circle cx="256.54" cy="262.39" r="1.35" fill="#c8001e"/>
<circle cx="260.13" cy="263.94" r="1.35" fill="#c8001e"/>
<circle cx="263.21" cy="261.63" r="1.35" fill="#c8001e"/>
<circle cx="266.45" cy="263.61" r="1.35" fill="#c8001e"/>
<circle cx="250.28" cy="265.37" r="1.35" fill="#c8001e"/>
<circle cx="253.51" cy="265.48" r="1.35" fill="#c8001e"/>
<circle cx="257.06" cy="266.37" r="1.35" fill="#c8001e"/>
<circle cx="260.08" cy="266.05" r="1.35" fill="#c8001e"/>
<circle cx="262.91" cy="264.85" r="1.35" fill="#c8001e"/>
<circle cx="266.33" cy="264.3" r="1.35" fill="#c8001e"/>
<circle cx="250.21" cy="268.85" r="1.35" fill="#c8001e"/>
<circle cx="253.68" cy="269.1" r="1.35" fill="#c8001e"/>
<circle cx="256.62" cy="267.15" r="1.35" fill="#c8001e"/>
<circle cx="259.81" cy="268.32" r="1.35" fill="#c8001e"/>
<circle cx="263.12" cy="267.42" r="1.35" fill="#c8001e"/>
<circle cx="266.43" cy="268" r="1.35" fill="#c8001e"/>
<circle cx="250.21" cy="269.95" r="1.35" fill="#c8001e"/>
<circle cx="253.48" cy="271.35" r="1.35" fill="#c8001e"/>
<circle cx="256.86" cy="269.71" r="1.35" fill="#c8001e"/>
<circle cx="259.8" cy="270.73" r="1.35" fill="#c8001e"/>
<circle cx="262.99" cy="270.85" r="1.35" fill="#c8001e"/>
<circle cx="266.43" cy="271.63" r="1.35" fill="#c8001e"/>
<circle cx="250.57" cy="272.07" r="1.35" fill="#c8001e"/>
<circle cx="253.78" cy="273.23" r="1.35" fill="#c8001e"/>
<circle cx="256.54" cy="274.44" r="1.35" fill="#c8001e"/>
<circle cx="260.14" cy="272.52" r="1.35" fill="#c8001e"/>
<circle cx="263.4" cy="273.71" r="1.35" fill="#c8001e"/>
<circle cx="266.69" cy="273.8" r="1.35" fill="#c8001e"/>
<circle cx="255.49" cy="275.77" r="1.35" fill="#c8001e"/>
<circle cx="258.35" cy="274.69" r="1.35" fill="#c8001e"/>
<circle cx="261.32" cy="275.34" r="1.35" fill="#c8001e"/>
<circle cx="242.87" cy="280.08" r="1.35" fill="#c8001e"/>
<circle cx="245" cy="281.43" r="1.35" fill="#c8001e"/>
<circle cx="247.39" cy="278.41" r="1.35" fill="#c8001e"/>
<circle cx="249.95" cy="279.44" r="1.35" fill="#c8001e"/>
<circle cx="252.36" cy="279.06" r="1.35" fill="#c8001e"/>
<circle cx="254.58" cy="278.62" r="1.35" fill="#c8001e"/>
<circle cx="257.24" cy="280.58" r="1.35" fill="#c8001e"/>
<circle cx="259.69" cy="280.52" r="1.35" fill="#c8001e"/>
<circle cx="262.23" cy="278.25" r="1.35" fill="#c8001e"/>
<circle cx="264.34" cy="281.68" r="1.35" fill="#c8001e"/>
<circle cx="266.69" cy="281.12" r="1.35" fill="#c8001e"/>
<circle cx="269.39" cy="281.03" r="1.35" fill="#c8001e"/>
<circle cx="271.33" cy="279.19" r="1.35" fill="#c8001e"/>
<circle cx="274.16" cy="279.92" r="1.35" fill="#c8001e"/>
<circle cx="256.41" cy="282.19" r="1.35" fill="#c8001e"/>
<circle cx="260.49" cy="282.31" r="1.35" fill="#c8001e"/>
<circle cx="305.3" cy="196.4" r="1.35" fill="#124c8a"/>
<circle cx="304.8" cy="214.4" r="1.35" fill="#124c8a"/>
<circle cx="305.6" cy="216.5" r="1.35" fill="#124c8a"/>
<circle cx="304.8" cy="221.3" r="1.35" fill="#124c8a"/>
<circle cx="305.8" cy="222.8" r="1.35" fill="#124c8a"/>
<circle cx="305" cy="226.6" r="1.35" fill="#124c8a"/>
<circle cx="305.5" cy="230.9" r="1.35" fill="#124c8a"/>
<circle cx="304.8" cy="235" r="1.35" fill="#124c8a"/>
<circle cx="304.5" cy="242.7" r="1.35" fill="#124c8a"/>
<circle cx="306" cy="244.5" r="1.35" fill="#124c8a"/>
<circle cx="304.5" cy="246.5" r="1.35" fill="#124c8a"/>
<circle cx="306" cy="248.8" r="1.35" fill="#124c8a"/>
<circle cx="303.5" cy="251" r="1.35" fill="#124c8a"/>
<circle cx="307" cy="251.8" r="1.35" fill="#124c8a"/>
<circle cx="302" cy="258" r="1.35" fill="#124c8a"/>
<circle cx="307.5" cy="257" r="1.35" fill="#124c8a"/>
<circle cx="304" cy="255" r="1.35" fill="#124c8a"/>
<circle cx="305.63" cy="236.94" r="1.35" fill="#124c8a"/>
<circle cx="305.59" cy="238.96" r="1.35" fill="#124c8a"/>
<circle cx="305.64" cy="243.03" r="1.35" fill="#124c8a"/>
<circle cx="305.41" cy="245.04" r="1.35" fill="#124c8a"/>
<circle cx="305.43" cy="249.74" r="1.35" fill="#124c8a"/>
<circle cx="305.77" cy="251.12" r="1.35" fill="#124c8a"/>
<circle cx="305.72" cy="253.91" r="1.35" fill="#124c8a"/>
<circle cx="305.54" cy="255.61" r="1.35" fill="#124c8a"/>
<circle cx="302.72" cy="259.33" r="1.35" fill="#124c8a"/>
<circle cx="305.36" cy="258.34" r="1.35" fill="#124c8a"/>
<circle cx="308.48" cy="259.38" r="1.35" fill="#124c8a"/>
<circle cx="301.28" cy="261.74" r="1.35" fill="#124c8a"/>
<circle cx="303.92" cy="260.4" r="1.35" fill="#124c8a"/>
<circle cx="307.09" cy="262.32" r="1.35" fill="#124c8a"/>
<circle cx="310.02" cy="260.79" r="1.35" fill="#124c8a"/>
<circle cx="303.02" cy="264.54" r="1.35" fill="#124c8a"/>
<circle cx="305.76" cy="263.08" r="1.35" fill="#124c8a"/>
<circle cx="308.12" cy="264" r="1.35" fill="#124c8a"/>
<circle cx="304.41" cy="265.51" r="1.35" fill="#124c8a"/>
<circle cx="306.87" cy="264.83" r="1.35" fill="#124c8a"/>
<circle cx="298.39" cy="267.64" r="1.35" fill="#124c8a"/>
<circle cx="301.3" cy="267.28" r="1.35" fill="#124c8a"/>
<circle cx="304.09" cy="267.96" r="1.35" fill="#124c8a"/>
<circle cx="306.84" cy="266.36" r="1.35" fill="#124c8a"/>
<circle cx="309.93" cy="266.52" r="1.35" fill="#124c8a"/>
<circle cx="312.84" cy="267.06" r="1.35" fill="#124c8a"/>
<circle cx="299.94" cy="269.09" r="1.35" fill="#124c8a"/>
<circle cx="302.6" cy="269.92" r="1.35" fill="#124c8a"/>
<circle cx="305.51" cy="268.78" r="1.35" fill="#124c8a"/>
<circle cx="308.34" cy="269.67" r="1.35" fill="#124c8a"/>
<circle cx="311.01" cy="268.62" r="1.35" fill="#124c8a"/>
<circle cx="297.26" cy="272.06" r="1.35" fill="#124c8a"/>
<circle cx="300.27" cy="270.88" r="1.35" fill="#124c8a"/>
<circle cx="302.93" cy="270.44" r="1.35" fill="#124c8a"/>
<circle cx="305.66" cy="272" r="1.35" fill="#124c8a"/>
<circle cx="308.24" cy="272.45" r="1.35" fill="#124c8a"/>
<circle cx="311.34" cy="271.49" r="1.35" fill="#124c8a"/>
<circle cx="313.93" cy="270.54" r="1.35" fill="#124c8a"/>
<circle cx="300.18" cy="274.51" r="1.35" fill="#124c8a"/>
<circle cx="302.63" cy="272.92" r="1.35" fill="#124c8a"/>
<circle cx="305.58" cy="273.98" r="1.35" fill="#124c8a"/>
<circle cx="308.53" cy="273.15" r="1.35" fill="#124c8a"/>
<circle cx="311.2" cy="273.81" r="1.35" fill="#124c8a"/>
<circle cx="305.75" cy="274.85" r="1.35" fill="#124c8a"/>
<circle cx="295.62" cy="275.04" r="1.35" fill="#124c8a"/>
<circle cx="298.4" cy="275.34" r="1.35" fill="#124c8a"/>
<circle cx="301.15" cy="276.09" r="1.35" fill="#124c8a"/>
<circle cx="304.1" cy="275.92" r="1.35" fill="#124c8a"/>
<circle cx="307.04" cy="276.7" r="1.35" fill="#124c8a"/>
<circle cx="309.89" cy="276.88" r="1.35" fill="#124c8a"/>
<circle cx="312.32" cy="276.26" r="1.35" fill="#124c8a"/>
<circle cx="315.37" cy="275.62" r="1.35" fill="#124c8a"/>
<circle cx="295.63" cy="278" r="1.35" fill="#124c8a"/>
<circle cx="298.82" cy="278.63" r="1.35" fill="#124c8a"/>
<circle cx="301.54" cy="278.5" r="1.35" fill="#124c8a"/>
<circle cx="304.38" cy="278.16" r="1.35" fill="#124c8a"/>
<circle cx="306.96" cy="277.59" r="1.35" fill="#124c8a"/>
<circle cx="309.57" cy="277.25" r="1.35" fill="#124c8a"/>
<circle cx="312.61" cy="277.45" r="1.35" fill="#124c8a"/>
<circle cx="315.48" cy="278.96" r="1.35" fill="#124c8a"/>
<circle cx="289.96" cy="280" r="1.35" fill="#124c8a"/>
<circle cx="292.1" cy="279.4" r="1.35" fill="#124c8a"/>
<circle cx="294.1" cy="280.16" r="1.35" fill="#124c8a"/>
<circle cx="296.27" cy="279.14" r="1.35" fill="#124c8a"/>
<circle cx="298.6" cy="280.25" r="1.35" fill="#124c8a"/>
<circle cx="300.5" cy="279.67" r="1.35" fill="#124c8a"/>
<circle cx="302.69" cy="279.91" r="1.35" fill="#124c8a"/>
<circle cx="304.71" cy="279.77" r="1.35" fill="#124c8a"/>
<circle cx="306.71" cy="280.56" r="1.35" fill="#124c8a"/>
<circle cx="308.56" cy="279.57" r="1.35" fill="#124c8a"/>
<circle cx="311" cy="279.11" r="1.35" fill="#124c8a"/>
<circle cx="312.84" cy="280.74" r="1.35" fill="#124c8a"/>
<circle cx="314.86" cy="279.25" r="1.35" fill="#124c8a"/>
<circle cx="316.93" cy="280.36" r="1.35" fill="#124c8a"/>
<circle cx="318.84" cy="280.8" r="1.35" fill="#124c8a"/>
<circle cx="321.05" cy="280.43" r="1.35" fill="#124c8a"/>
<circle cx="290.37" cy="281.57" r="1.35" fill="#124c8a"/>
<circle cx="292.22" cy="281.95" r="1.35" fill="#124c8a"/>
<circle cx="295.04" cy="282.14" r="1.35" fill="#124c8a"/>
<circle cx="297.26" cy="281.25" r="1.35" fill="#124c8a"/>
<circle cx="299.92" cy="281.46" r="1.35" fill="#124c8a"/>
<circle cx="302.01" cy="280.94" r="1.35" fill="#124c8a"/>
<circle cx="304.33" cy="281.11" r="1.35" fill="#124c8a"/>
<circle cx="306.77" cy="281.08" r="1.35" fill="#124c8a"/>
<circle cx="309.14" cy="282.33" r="1.35" fill="#124c8a"/>
<circle cx="311.55" cy="282.49" r="1.35" fill="#124c8a"/>
<circle cx="314.15" cy="282.16" r="1.35" fill="#124c8a"/>
<circle cx="316.45" cy="281.45" r="1.35" fill="#124c8a"/>
<circle cx="318.87" cy="281.72" r="1.35" fill="#124c8a"/>
<circle cx="320.84" cy="281.86" r="1.35" fill="#124c8a"/>
<circle cx="297.46" cy="282.84" r="1.35" fill="#124c8a"/>
<circle cx="299.9" cy="282.81" r="1.35" fill="#124c8a"/>
<circle cx="302.88" cy="284.2" r="1.35" fill="#124c8a"/>
<circle cx="305.58" cy="283.76" r="1.35" fill="#124c8a"/>
<circle cx="308.53" cy="284.61" r="1.35" fill="#124c8a"/>
<circle cx="311.41" cy="283.15" r="1.35" fill="#124c8a"/>
<circle cx="313.9" cy="283.55" r="1.35" fill="#124c8a"/>
<circle cx="305.71" cy="284.98" r="1.35" fill="#124c8a"/>
<line x1="258.4" y1="262" x2="258.4" y2="270" stroke="#d23c5c" stroke-width="0.9"/>
<line x1="250.9" y1="262" x2="265.9" y2="262" stroke="#d23c5c" stroke-width="0.9"/>
<line x1="250.9" y1="270" x2="265.9" y2="270" stroke="#d23c5c" stroke-width="0.9"/>
<line x1="305.6" y1="261.8" x2="305.6" y2="266.3" stroke="#3c6ea0" stroke-width="0.9"/>
<line x1="298.1" y1="261.8" x2="313.1" y2="261.8" stroke="#3c6ea0" stroke-width="0.9"/>
<line x1="298.1" y1="266.3" x2="313.1" y2="266.3" stroke="#3c6ea0" stroke-width="0.9"/>
<line x1="227.6" y1="185.4" x2="227.6" y2="285.8" stroke="#262626" stroke-width="1.3"/>
<line x1="224.6" y1="285.2" x2="227.6" y2="285.2" stroke="#262626" stroke-width="1.3"/>
<text x="222.7" y="287.7" font-size="7.1" text-anchor="end" fill="#111" font-weight="normal" textLength="4.34" lengthAdjust="spacingAndGlyphs" stroke="#111" stroke-width="0.18" >0</text>
<line x1="224.6" y1="261.12" x2="227.6" y2="261.12" stroke="#262626" stroke-width="1.3"/>
<text x="222.7" y="263.62" font-size="7.1" text-anchor="end" fill="#111" font-weight="normal" textLength="8.68" lengthAdjust="spacingAndGlyphs" stroke="#111" stroke-width="0.18" >50</text>
<line x1="224.6" y1="237.05" x2="227.6" y2="237.05" stroke="#262626" stroke-width="1.3"/>
<text x="222.7" y="239.55" font-size="7.1" text-anchor="end" fill="#111" font-weight="normal" textLength="13.03" lengthAdjust="spacingAndGlyphs" stroke="#111" stroke-width="0.18" >100</text>
<line x1="224.6" y1="212.97" x2="227.6" y2="212.97" stroke="#262626" stroke-width="1.3"/>
<text x="222.7" y="215.47" font-size="7.1" text-anchor="end" fill="#111" font-weight="normal" textLength="13.03" lengthAdjust="spacingAndGlyphs" stroke="#111" stroke-width="0.18" >150</text>
<line x1="224.6" y1="188.9" x2="227.6" y2="188.9" stroke="#262626" stroke-width="1.3"/>
<text x="222.7" y="191.4" font-size="7.1" text-anchor="end" fill="#111" font-weight="normal" textLength="13.03" lengthAdjust="spacingAndGlyphs" stroke="#111" stroke-width="0.18" >200</text>
<line x1="227" y1="285.2" x2="337" y2="285.2" stroke="#262626" stroke-width="1.3"/>
<line x1="258.4" y1="285.2" x2="258.4" y2="288.3" stroke="#262626" stroke-width="1.3"/>
<line x1="305.6" y1="285.2" x2="305.6" y2="288.3" stroke="#262626" stroke-width="1.3"/>
<line x1="264.4" y1="193.3" x2="297.7" y2="193.3" stroke="#a0a0a0" stroke-width="1.3"/>
<text x="265.6" y="189" font-size="7.6" text-anchor="start" fill="#111" font-weight="normal" textLength="19.5" lengthAdjust="spacingAndGlyphs" stroke="#111" stroke-width="0.18" >p=.69</text>
<text transform="translate(204,235) rotate(-90)" x="0" y="0" font-size="9.9" font-weight="normal" stroke="#111" stroke-width="0.12" text-anchor="middle" fill="#111" textLength="38.7" lengthAdjust="spacingAndGlyphs">CXCL9 ng/mL</text>
<text x="256.4" y="299.5" font-size="7.5" text-anchor="middle" fill="#111" font-weight="normal" textLength="35.7" lengthAdjust="spacingAndGlyphs" stroke="#111" stroke-width="0.18" >GI-cGVHD</text>
<text x="304.7" y="299.5" font-size="7.5" text-anchor="middle" fill="#111" font-weight="normal" textLength="47.7" lengthAdjust="spacingAndGlyphs" stroke="#111" stroke-width="0.18" >No GI-cGVHD</text>
<text x="222.7" y="308" font-size="7.4" text-anchor="start" fill="#111" font-weight="normal" stroke="#111" stroke-width="0.18" >n:</text>
<text x="258.4" y="308" font-size="7.5" text-anchor="middle" fill="#111" font-weight="normal" stroke="#111" stroke-width="0.18" >63</text>
<text x="305.2" y="308" font-size="7.5" text-anchor="middle" fill="#111" font-weight="normal" stroke="#111" stroke-width="0.18" >115</text>
<rect x="420.2" y="258.4" width="30.2" height="26.2" fill="#e48c9e" stroke="#d9728a" stroke-width="0.9"/>
<rect x="467.4" y="265.7" width="30" height="18.9" fill="#87a5c3" stroke="#6f92b6" stroke-width="0.9"/>
<circle cx="435.5" cy="190.3" r="1.35" fill="#c8001e"/>
<circle cx="432.5" cy="200.8" r="1.35" fill="#c8001e"/>
<circle cx="438.5" cy="202.2" r="1.35" fill="#c8001e"/>
<circle cx="435.5" cy="203.4" r="1.35" fill="#c8001e"/>
<circle cx="435.5" cy="216.7" r="1.35" fill="#c8001e"/>
<circle cx="432.5" cy="222.7" r="1.35" fill="#c8001e"/>
<circle cx="438.5" cy="224" r="1.35" fill="#c8001e"/>
<circle cx="435.5" cy="230" r="1.35" fill="#c8001e"/>
<circle cx="435.5" cy="235.6" r="1.35" fill="#c8001e"/>
<circle cx="435.5" cy="244.5" r="1.35" fill="#c8001e"/>
<circle cx="438.5" cy="242.7" r="1.35" fill="#c8001e"/>
<circle cx="432.5" cy="252.4" r="1.35" fill="#c8001e"/>
<circle cx="438.5" cy="250.4" r="1.35" fill="#c8001e"/>
<circle cx="430.28" cy="256.07" r="1.35" fill="#c8001e"/>
<circle cx="435.39" cy="254.86" r="1.35" fill="#c8001e"/>
<circle cx="440.56" cy="255.07" r="1.35" fill="#c8001e"/>
<circle cx="432.82" cy="257.69" r="1.35" fill="#c8001e"/>
<circle cx="437.74" cy="258.21" r="1.35" fill="#c8001e"/>
<circle cx="433.16" cy="260.56" r="1.35" fill="#c8001e"/>
<circle cx="437.99" cy="259.25" r="1.35" fill="#c8001e"/>
<circle cx="435.41" cy="261.92" r="1.35" fill="#c8001e"/>
<circle cx="426.76" cy="263.67" r="1.35" fill="#c8001e"/>
<circle cx="431.22" cy="262.89" r="1.35" fill="#c8001e"/>
<circle cx="435.58" cy="263.41" r="1.35" fill="#c8001e"/>
<circle cx="440.18" cy="264.51" r="1.35" fill="#c8001e"/>
<circle cx="444.47" cy="262.16" r="1.35" fill="#c8001e"/>
<circle cx="424.3" cy="265.36" r="1.35" fill="#c8001e"/>
<circle cx="428.92" cy="266.19" r="1.35" fill="#c8001e"/>
<circle cx="433.06" cy="265.02" r="1.35" fill="#c8001e"/>
<circle cx="437.48" cy="267.58" r="1.35" fill="#c8001e"/>
<circle cx="442.32" cy="267.28" r="1.35" fill="#c8001e"/>
<circle cx="446.48" cy="266.82" r="1.35" fill="#c8001e"/>
<circle cx="426.97" cy="270.1" r="1.35" fill="#c8001e"/>
<circle cx="431.22" cy="269.35" r="1.35" fill="#c8001e"/>
<circle cx="435.48" cy="268.93" r="1.35" fill="#c8001e"/>
<circle cx="439.84" cy="269.56" r="1.35" fill="#c8001e"/>
<circle cx="444.05" cy="268.03" r="1.35" fill="#c8001e"/>
<circle cx="424.55" cy="271.32" r="1.35" fill="#c8001e"/>
<circle cx="428.6" cy="270.9" r="1.35" fill="#c8001e"/>
<circle cx="433.27" cy="272.48" r="1.35" fill="#c8001e"/>
<circle cx="437.7" cy="273.37" r="1.35" fill="#c8001e"/>
<circle cx="441.84" cy="271.97" r="1.35" fill="#c8001e"/>
<circle cx="446.21" cy="272.97" r="1.35" fill="#c8001e"/>
<circle cx="424.53" cy="275.07" r="1.35" fill="#c8001e"/>
<circle cx="429.17" cy="275.52" r="1.35" fill="#c8001e"/>
<circle cx="433.07" cy="276.23" r="1.35" fill="#c8001e"/>
<circle cx="437.82" cy="274.24" r="1.35" fill="#c8001e"/>
<circle cx="442.33" cy="274.5" r="1.35" fill="#c8001e"/>
<circle cx="446.36" cy="276.47" r="1.35" fill="#c8001e"/>
<circle cx="426.88" cy="279.1" r="1.35" fill="#c8001e"/>
<circle cx="430.89" cy="277.03" r="1.35" fill="#c8001e"/>
<circle cx="435.74" cy="278.23" r="1.35" fill="#c8001e"/>
<circle cx="439.79" cy="277.74" r="1.35" fill="#c8001e"/>
<circle cx="444.46" cy="279.16" r="1.35" fill="#c8001e"/>
<circle cx="426.68" cy="279.77" r="1.35" fill="#c8001e"/>
<circle cx="431.11" cy="281.71" r="1.35" fill="#c8001e"/>
<circle cx="435.65" cy="280.82" r="1.35" fill="#c8001e"/>
<circle cx="439.71" cy="282.19" r="1.35" fill="#c8001e"/>
<circle cx="444.42" cy="280.38" r="1.35" fill="#c8001e"/>
<circle cx="429.07" cy="282.42" r="1.35" fill="#c8001e"/>
<circle cx="433.54" cy="283.47" r="1.35" fill="#c8001e"/>
<circle cx="437.66" cy="284.32" r="1.35" fill="#c8001e"/>
<circle cx="442.2" cy="283.38" r="1.35" fill="#c8001e"/>
<circle cx="482.4" cy="211.7" r="1.35" fill="#124c8a"/>
<circle cx="482.4" cy="213.8" r="1.35" fill="#124c8a"/>
<circle cx="482.4" cy="215.4" r="1.35" fill="#124c8a"/>
<circle cx="480.72" cy="239.14" r="1.35" fill="#124c8a"/>
<circle cx="483.25" cy="240.32" r="1.35" fill="#124c8a"/>
<circle cx="480.76" cy="242.53" r="1.35" fill="#124c8a"/>
<circle cx="483.67" cy="242.65" r="1.35" fill="#124c8a"/>
<circle cx="481.93" cy="244.61" r="1.35" fill="#124c8a"/>
<circle cx="480.58" cy="245.85" r="1.35" fill="#124c8a"/>
<circle cx="483.57" cy="246.7" r="1.35" fill="#124c8a"/>
<circle cx="480.66" cy="248.98" r="1.35" fill="#124c8a"/>
<circle cx="483.38" cy="248.49" r="1.35" fill="#124c8a"/>
<circle cx="480.58" cy="250.03" r="1.35" fill="#124c8a"/>
<circle cx="483.5" cy="251.6" r="1.35" fill="#124c8a"/>
<circle cx="481.79" cy="252.93" r="1.35" fill="#124c8a"/>
<circle cx="479.06" cy="255.65" r="1.35" fill="#124c8a"/>
<circle cx="482.04" cy="256.08" r="1.35" fill="#124c8a"/>
<circle cx="484.72" cy="254.44" r="1.35" fill="#124c8a"/>
<circle cx="481.94" cy="257.03" r="1.35" fill="#124c8a"/>
<circle cx="480.57" cy="259.1" r="1.35" fill="#124c8a"/>
<circle cx="483.33" cy="259.57" r="1.35" fill="#124c8a"/>
<circle cx="480.65" cy="262.05" r="1.35" fill="#124c8a"/>
<circle cx="483.19" cy="261.13" r="1.35" fill="#124c8a"/>
<circle cx="476.11" cy="263.85" r="1.35" fill="#124c8a"/>
<circle cx="479.27" cy="263.34" r="1.35" fill="#124c8a"/>
<circle cx="481.86" cy="264.37" r="1.35" fill="#124c8a"/>
<circle cx="484.93" cy="264.01" r="1.35" fill="#124c8a"/>
<circle cx="487.53" cy="264.91" r="1.35" fill="#124c8a"/>
<circle cx="476.16" cy="266.97" r="1.35" fill="#124c8a"/>
<circle cx="479.23" cy="265.89" r="1.35" fill="#124c8a"/>
<circle cx="481.91" cy="266.34" r="1.35" fill="#124c8a"/>
<circle cx="484.98" cy="266.93" r="1.35" fill="#124c8a"/>
<circle cx="487.73" cy="265.43" r="1.35" fill="#124c8a"/>
<circle cx="476.27" cy="268.01" r="1.35" fill="#124c8a"/>
<circle cx="479.25" cy="269" r="1.35" fill="#124c8a"/>
<circle cx="482.06" cy="269.34" r="1.35" fill="#124c8a"/>
<circle cx="484.92" cy="268.66" r="1.35" fill="#124c8a"/>
<circle cx="487.39" cy="267.68" r="1.35" fill="#124c8a"/>
<circle cx="481.94" cy="269.79" r="1.35" fill="#124c8a"/>
<circle cx="468.09" cy="271.8" r="1.35" fill="#124c8a"/>
<circle cx="470.8" cy="270.27" r="1.35" fill="#124c8a"/>
<circle cx="473.54" cy="270.65" r="1.35" fill="#124c8a"/>
<circle cx="476.21" cy="271.39" r="1.35" fill="#124c8a"/>
<circle cx="478.91" cy="272.1" r="1.35" fill="#124c8a"/>
<circle cx="481.87" cy="271.95" r="1.35" fill="#124c8a"/>
<circle cx="484.74" cy="270.55" r="1.35" fill="#124c8a"/>
<circle cx="487.32" cy="271.2" r="1.35" fill="#124c8a"/>
<circle cx="490.55" cy="271.45" r="1.35" fill="#124c8a"/>
<circle cx="492.96" cy="270.06" r="1.35" fill="#124c8a"/>
<circle cx="496.02" cy="270.86" r="1.35" fill="#124c8a"/>
<circle cx="469.22" cy="273.91" r="1.35" fill="#124c8a"/>
<circle cx="472.07" cy="273.16" r="1.35" fill="#124c8a"/>
<circle cx="474.82" cy="274.12" r="1.35" fill="#124c8a"/>
<circle cx="477.73" cy="273.44" r="1.35" fill="#124c8a"/>
<circle cx="480.58" cy="272.68" r="1.35" fill="#124c8a"/>
<circle cx="483.1" cy="272.5" r="1.35" fill="#124c8a"/>
<circle cx="486.47" cy="274.1" r="1.35" fill="#124c8a"/>
<circle cx="489.01" cy="272.42" r="1.35" fill="#124c8a"/>
<circle cx="491.61" cy="272.96" r="1.35" fill="#124c8a"/>
<circle cx="494.88" cy="273.69" r="1.35" fill="#124c8a"/>
<circle cx="467.82" cy="276.08" r="1.35" fill="#124c8a"/>
<circle cx="471.01" cy="275.13" r="1.35" fill="#124c8a"/>
<circle cx="473.75" cy="275.66" r="1.35" fill="#124c8a"/>
<circle cx="476.45" cy="275.95" r="1.35" fill="#124c8a"/>
<circle cx="479.38" cy="276.55" r="1.35" fill="#124c8a"/>
<circle cx="481.73" cy="275.31" r="1.35" fill="#124c8a"/>
<circle cx="484.83" cy="276.27" r="1.35" fill="#124c8a"/>
<circle cx="487.71" cy="274.52" r="1.35" fill="#124c8a"/>
<circle cx="490.5" cy="274.68" r="1.35" fill="#124c8a"/>
<circle cx="493.14" cy="274.93" r="1.35" fill="#124c8a"/>
<circle cx="495.99" cy="275.51" r="1.35" fill="#124c8a"/>
<circle cx="480.86" cy="276.7" r="1.35" fill="#124c8a"/>
<circle cx="483.36" cy="276.92" r="1.35" fill="#124c8a"/>
<circle cx="466.76" cy="277.1" r="1.35" fill="#124c8a"/>
<circle cx="469.48" cy="277.26" r="1.35" fill="#124c8a"/>
<circle cx="472.13" cy="278.83" r="1.35" fill="#124c8a"/>
<circle cx="474.9" cy="277.5" r="1.35" fill="#124c8a"/>
<circle cx="477.62" cy="278.99" r="1.35" fill="#124c8a"/>
<circle cx="480.38" cy="278.45" r="1.35" fill="#124c8a"/>
<circle cx="483.4" cy="277.83" r="1.35" fill="#124c8a"/>
<circle cx="486.04" cy="278.11" r="1.35" fill="#124c8a"/>
<circle cx="489.26" cy="277.97" r="1.35" fill="#124c8a"/>
<circle cx="491.7" cy="278.77" r="1.35" fill="#124c8a"/>
<circle cx="494.53" cy="277.55" r="1.35" fill="#124c8a"/>
<circle cx="497.3" cy="278.43" r="1.35" fill="#124c8a"/>
<circle cx="466.43" cy="279.69" r="1.35" fill="#124c8a"/>
<circle cx="469.33" cy="280.11" r="1.35" fill="#124c8a"/>
<circle cx="472.06" cy="279.82" r="1.35" fill="#124c8a"/>
<circle cx="475.12" cy="281.12" r="1.35" fill="#124c8a"/>
<circle cx="477.6" cy="279.25" r="1.35" fill="#124c8a"/>
<circle cx="480.49" cy="280.86" r="1.35" fill="#124c8a"/>
<circle cx="483.6" cy="280.5" r="1.35" fill="#124c8a"/>
<circle cx="486.07" cy="280.3" r="1.35" fill="#124c8a"/>
<circle cx="489.1" cy="279.96" r="1.35" fill="#124c8a"/>
<circle cx="492.08" cy="279.5" r="1.35" fill="#124c8a"/>
<circle cx="494.44" cy="281.28" r="1.35" fill="#124c8a"/>
<circle cx="497.13" cy="280.71" r="1.35" fill="#124c8a"/>
<circle cx="466.83" cy="281.45" r="1.35" fill="#124c8a"/>
<circle cx="469.36" cy="282.23" r="1.35" fill="#124c8a"/>
<circle cx="472.24" cy="281.6" r="1.35" fill="#124c8a"/>
<circle cx="475.27" cy="283.36" r="1.35" fill="#124c8a"/>
<circle cx="477.63" cy="282.5" r="1.35" fill="#124c8a"/>
<circle cx="480.73" cy="282.7" r="1.35" fill="#124c8a"/>
<circle cx="483.68" cy="283.1" r="1.35" fill="#124c8a"/>
<circle cx="486.03" cy="282.31" r="1.35" fill="#124c8a"/>
<circle cx="489.12" cy="281.7" r="1.35" fill="#124c8a"/>
<circle cx="491.87" cy="283.31" r="1.35" fill="#124c8a"/>
<circle cx="494.87" cy="282.91" r="1.35" fill="#124c8a"/>
<circle cx="497.2" cy="281.98" r="1.35" fill="#124c8a"/>
<circle cx="474.71" cy="284.93" r="1.35" fill="#124c8a"/>
<circle cx="477.74" cy="283.81" r="1.35" fill="#124c8a"/>
<circle cx="480.65" cy="284.02" r="1.35" fill="#124c8a"/>
<circle cx="483.61" cy="284.69" r="1.35" fill="#124c8a"/>
<circle cx="486.04" cy="283.59" r="1.35" fill="#124c8a"/>
<circle cx="489.25" cy="284.39" r="1.35" fill="#124c8a"/>
<line x1="435.5" y1="254" x2="435.5" y2="262" stroke="#d23c5c" stroke-width="0.9"/>
<line x1="428" y1="254" x2="443" y2="254" stroke="#d23c5c" stroke-width="0.9"/>
<line x1="428" y1="262" x2="443" y2="262" stroke="#d23c5c" stroke-width="0.9"/>
<line x1="482" y1="262" x2="482" y2="269" stroke="#3c6ea0" stroke-width="0.9"/>
<line x1="474.5" y1="262" x2="489.5" y2="262" stroke="#3c6ea0" stroke-width="0.9"/>
<line x1="474.5" y1="269" x2="489.5" y2="269" stroke="#3c6ea0" stroke-width="0.9"/>
<line x1="404.1" y1="183.4" x2="404.1" y2="285.2" stroke="#262626" stroke-width="1.3"/>
<line x1="401.1" y1="284.6" x2="404.1" y2="284.6" stroke="#262626" stroke-width="1.3"/>
<text x="399.2" y="287.1" font-size="7.1" text-anchor="end" fill="#111" font-weight="normal" textLength="4.34" lengthAdjust="spacingAndGlyphs" stroke="#111" stroke-width="0.18" >0</text>
<line x1="401.1" y1="260.18" x2="404.1" y2="260.18" stroke="#262626" stroke-width="1.3"/>
<text x="399.2" y="262.68" font-size="7.1" text-anchor="end" fill="#111" font-weight="normal" textLength="8.68" lengthAdjust="spacingAndGlyphs" stroke="#111" stroke-width="0.18" >50</text>
<line x1="401.1" y1="235.75" x2="404.1" y2="235.75" stroke="#262626" stroke-width="1.3"/>
<text x="399.2" y="238.25" font-size="7.1" text-anchor="end" fill="#111" font-weight="normal" textLength="13.03" lengthAdjust="spacingAndGlyphs" stroke="#111" stroke-width="0.18" >100</text>
<line x1="401.1" y1="211.33" x2="404.1" y2="211.33" stroke="#262626" stroke-width="1.3"/>
<text x="399.2" y="213.83" font-size="7.1" text-anchor="end" fill="#111" font-weight="normal" textLength="13.03" lengthAdjust="spacingAndGlyphs" stroke="#111" stroke-width="0.18" >150</text>
<line x1="401.1" y1="186.9" x2="404.1" y2="186.9" stroke="#262626" stroke-width="1.3"/>
<text x="399.2" y="189.4" font-size="7.1" text-anchor="end" fill="#111" font-weight="normal" textLength="13.03" lengthAdjust="spacingAndGlyphs" stroke="#111" stroke-width="0.18" >200</text>
<line x1="403.5" y1="284.6" x2="514" y2="284.6" stroke="#262626" stroke-width="1.3"/>
<line x1="435.5" y1="284.6" x2="435.5" y2="287.7" stroke="#262626" stroke-width="1.3"/>
<line x1="482" y1="284.6" x2="482" y2="287.7" stroke="#262626" stroke-width="1.3"/>
<line x1="442.4" y1="185.6" x2="475.1" y2="185.6" stroke="#a0a0a0" stroke-width="1.3"/>
<text x="446.7" y="182.2" font-size="7.6" text-anchor="start" fill="#111" font-weight="normal" textLength="20.3" lengthAdjust="spacingAndGlyphs" stroke="#111" stroke-width="0.18" >p=.18</text>
<text transform="translate(380.7,234) rotate(-90)" x="0" y="0" font-size="9.9" font-weight="normal" stroke="#111" stroke-width="0.12" text-anchor="middle" fill="#111" textLength="31.5" lengthAdjust="spacingAndGlyphs">ST2 ng/mL</text>
<text x="436.5" y="299.5" font-size="7.5" text-anchor="middle" fill="#111" font-weight="normal" textLength="35.7" lengthAdjust="spacingAndGlyphs" stroke="#111" stroke-width="0.18" >GI-cGVHD</text>
<text x="485.2" y="299.5" font-size="7.5" text-anchor="middle" fill="#111" font-weight="normal" textLength="47" lengthAdjust="spacingAndGlyphs" stroke="#111" stroke-width="0.18" >No GI-cGVHD</text>
<text x="401.7" y="308" font-size="7.4" text-anchor="start" fill="#111" font-weight="normal" stroke="#111" stroke-width="0.18" >n:</text>
<text x="438" y="308" font-size="7.5" text-anchor="middle" fill="#111" font-weight="normal" stroke="#111" stroke-width="0.18" >63</text>
<text x="482" y="308" font-size="7.5" text-anchor="middle" fill="#111" font-weight="normal" stroke="#111" stroke-width="0.18" >115</text>
<path d="M52.7,441.8 H60 H61.25 V440.65 H62.5 V439.5 H66.25 V437.9 H70 V436.3 H72.5 V434.4 H75 V432.5 H78.75 V430.65 H82.5 V428.8 H87.5 V427.5 H90 V426.25 H92.5 V425 H94.4 V423.15 H96.3 V421.3 H102.5 V419.5 H112.5 V418 H117.5 V416.3 H125 V414.3 H132.5 V413 H136.25 V411.5 H140 V410 H142.5 V408.5 H145 V407 H157.5 V405.5 H167.5 V403.8 H170 V402.55 H172.5 V401.3 H181.3 V400.5 H200 H201.25 V399 H202.5 V397.5 H212.5 V396.3 H213.75 V395.05 H215 V393.8 H216.9 V392.55 H218.8 V391.3 H223.15 V390.05 H227.5 V388.8 H250" fill="none" stroke="#124c8a" stroke-width="1.5" stroke-linejoin="miter"/>
<path d="M52.7,441.8 H56.3 H56.3 V440.5 H61.3 H62.5 V438.5 H63.8 V436.3 H67.5 H68.15 V435.05 H68.8 V433.8 H70.65 V431.9 H72.5 V430 H73.75 V428.15 H75 V426.3 H76.25 V424.4 H77.5 V422.5 H78.75 V421.25 H80 V420 H83.8 V418.8 H85.05 V416.9 H86.3 V415 H91.3 V413.8 H92.55 V412.55 H93.8 V411.3 H94.2 V409.2 H94.6 V407.1 H95 V405 H97.5 V403 H101.3 V400.8 H106.3 V399.5 H109.4 V398.25 H112.5 V397 H115 V395.4 H117.5 V393.8 H120 V392 H123.75 V390.4 H127.5 V388.8 H131.25 V387.55 H135 V386.3 H137.1 V384.2 H139.2 V382.1 H141.3 V380 H143.8 V378 H152.5 V376.3 H155.65 V374.4 H158.8 V372.5 H165.05 V371.25 H171.3 V370 H172.5 V368 H181.3 V366.3 H200 H201.25 V364.15 H202.5 V362 H211.3 H212.55 V360.15 H213.8 V358.3 H215.05 V356.65 H216.3 V355 H218.15 V353.75 H220 V352.5 H222.5 V350.67 H225 V348.83 H227.5 V347 H250" fill="none" stroke="#c8001e" stroke-width="1.5" stroke-linejoin="miter"/>
<line x1="52.6" y1="325.75" x2="52.6" y2="443.3" stroke="#262626" stroke-width="1.3"/>
<line x1="49.6" y1="442.7" x2="52.6" y2="442.7" stroke="#262626" stroke-width="1.3"/>
<text x="47.7" y="445.2" font-size="7.1" text-anchor="end" fill="#111" font-weight="normal" textLength="4.34" lengthAdjust="spacingAndGlyphs" stroke="#111" stroke-width="0.18" >0</text>
<line x1="49.6" y1="414.34" x2="52.6" y2="414.34" stroke="#262626" stroke-width="1.3"/>
<text x="47.7" y="416.84" font-size="7.1" text-anchor="end" fill="#111" font-weight="normal" stroke="#111" stroke-width="0.18" >0.1</text>
<line x1="49.6" y1="385.98" x2="52.6" y2="385.98" stroke="#262626" stroke-width="1.3"/>
<text x="47.7" y="388.48" font-size="7.1" text-anchor="end" fill="#111" font-weight="normal" stroke="#111" stroke-width="0.18" >0.2</text>
<line x1="49.6" y1="357.61" x2="52.6" y2="357.61" stroke="#262626" stroke-width="1.3"/>
<text x="47.7" y="360.11" font-size="7.1" text-anchor="end" fill="#111" font-weight="normal" stroke="#111" stroke-width="0.18" >0.3</text>
<line x1="49.6" y1="329.25" x2="52.6" y2="329.25" stroke="#262626" stroke-width="1.3"/>
<text x="47.7" y="331.75" font-size="7.1" text-anchor="end" fill="#111" font-weight="normal" stroke="#111" stroke-width="0.18" >0.4</text>
<line x1="52" y1="442.7" x2="252.2" y2="442.7" stroke="#262626" stroke-width="1.3"/>
<line x1="52.7" y1="442.7" x2="52.7" y2="445.9" stroke="#262626" stroke-width="1.3"/>
<text x="53.2" y="454.8" font-size="7.6" text-anchor="middle" fill="#111" font-weight="normal" textLength="4.56" lengthAdjust="spacingAndGlyphs" stroke="#111" stroke-width="0.18" >0</text>
<line x1="101" y1="442.7" x2="101" y2="445.9" stroke="#262626" stroke-width="1.3"/>
<text x="101.5" y="454.8" font-size="7.6" text-anchor="middle" fill="#111" font-weight="normal" textLength="18.25" lengthAdjust="spacingAndGlyphs" stroke="#111" stroke-width="0.18" >1000</text>
<line x1="148.3" y1="442.7" x2="148.3" y2="445.9" stroke="#262626" stroke-width="1.3"/>
<text x="148.8" y="454.8" font-size="7.6" text-anchor="middle" fill="#111" font-weight="normal" textLength="18.25" lengthAdjust="spacingAndGlyphs" stroke="#111" stroke-width="0.18" >2000</text>
<line x1="195.5" y1="442.7" x2="195.5" y2="445.9" stroke="#262626" stroke-width="1.3"/>
<text x="196" y="454.8" font-size="7.6" text-anchor="middle" fill="#111" font-weight="normal" textLength="18.25" lengthAdjust="spacingAndGlyphs" stroke="#111" stroke-width="0.18" >3000</text>
<line x1="242.4" y1="442.7" x2="242.4" y2="445.9" stroke="#262626" stroke-width="1.3"/>
<text x="242.9" y="454.8" font-size="7.6" text-anchor="middle" fill="#111" font-weight="normal" textLength="18.25" lengthAdjust="spacingAndGlyphs" stroke="#111" stroke-width="0.18" >4000</text>
<text x="152.1" y="465.5" font-size="8.8" text-anchor="middle" fill="#111" font-weight="bold" textLength="49" lengthAdjust="spacingAndGlyphs" >Days post-sample</text>
<text x="213.75" y="421.25" font-size="7.4" text-anchor="start" fill="#111" font-weight="normal" textLength="24.3" lengthAdjust="spacingAndGlyphs" stroke="#111" stroke-width="0.18" >p=.015</text>
<line x1="62.6" y1="328.4" x2="73" y2="328.4" stroke="#c8001e" stroke-width="1.5"/>
<line x1="62.6" y1="339.2" x2="73" y2="339.2" stroke="#124c8a" stroke-width="1.5"/>
<text x="76.9" y="330.9" font-size="7.1" text-anchor="start" fill="#111" font-weight="normal" textLength="83.1" lengthAdjust="spacingAndGlyphs" stroke="#111" stroke-width="0.18" >Reg3α ≥ 72 ng/mL, n=145</text>
<text x="76.9" y="341.5" font-size="7.1" text-anchor="start" fill="#111" font-weight="normal" textLength="83.1" lengthAdjust="spacingAndGlyphs" stroke="#111" stroke-width="0.18" >Reg3α &lt; 72 ng/mL, n=144</text>
<text transform="translate(31.8,384.6) rotate(-90)" x="0" y="0" font-size="8.8" font-weight="bold" text-anchor="middle" fill="#111" textLength="52.6" lengthAdjust="spacingAndGlyphs">Probability of NRM</text>
<rect x="61.7" y="592.4" width="15.2" height="17.8" fill="#f5d3db" stroke="#efbccb" stroke-width="0.9"/>
<rect x="87.1" y="586.2" width="14.8" height="24" fill="#eba3b3" stroke="#e28ea2" stroke-width="0.9"/>
<rect x="111.3" y="587.8" width="15.4" height="22.4" fill="#e06c8a" stroke="#d85479" stroke-width="0.9"/>
<rect x="136.8" y="594.1" width="14.8" height="16.1" fill="#8c6440" stroke="#7a5535" stroke-width="0.9"/>
<circle cx="69.2" cy="524.6" r="1.35" fill="#e38aa6"/>
<circle cx="69.2" cy="535.2" r="1.35" fill="#e38aa6"/>
<circle cx="69.5" cy="586.4" r="1.35" fill="#e38aa6"/>
<circle cx="66.8" cy="589.6" r="1.35" fill="#e38aa6"/>
<circle cx="69.1" cy="591" r="1.35" fill="#e38aa6"/>
<circle cx="66.8" cy="595.9" r="1.35" fill="#e38aa6"/>
<circle cx="71.9" cy="597.2" r="1.35" fill="#e38aa6"/>
<circle cx="74.2" cy="599.5" r="1.35" fill="#e38aa6"/>
<circle cx="62.2" cy="602.1" r="1.35" fill="#e38aa6"/>
<circle cx="65" cy="603.6" r="1.35" fill="#e38aa6"/>
<circle cx="69.1" cy="603.2" r="1.35" fill="#e38aa6"/>
<circle cx="71.9" cy="604.5" r="1.35" fill="#e38aa6"/>
<circle cx="76" cy="602.8" r="1.35" fill="#e38aa6"/>
<circle cx="64.5" cy="606.5" r="1.35" fill="#e38aa6"/>
<circle cx="69.1" cy="606.5" r="1.35" fill="#e38aa6"/>
<circle cx="74.2" cy="606.9" r="1.35" fill="#e38aa6"/>
<circle cx="67" cy="600" r="1.35" fill="#e38aa6"/>
<circle cx="70" cy="598.5" r="1.35" fill="#e38aa6"/>
<circle cx="72.5" cy="601.5" r="1.35" fill="#e38aa6"/>
<circle cx="94.2" cy="521.3" r="1.35" fill="#d84a70"/>
<circle cx="94.2" cy="529.6" r="1.35" fill="#d84a70"/>
<circle cx="94.2" cy="554.2" r="1.35" fill="#d84a70"/>
<circle cx="94.2" cy="564.9" r="1.35" fill="#d84a70"/>
<circle cx="94.2" cy="583.7" r="1.35" fill="#d84a70"/>
<circle cx="94.2" cy="587.5" r="1.35" fill="#d84a70"/>
<circle cx="94.2" cy="591.4" r="1.35" fill="#d84a70"/>
<circle cx="97.7" cy="591.9" r="1.35" fill="#d84a70"/>
<circle cx="90.8" cy="595.9" r="1.35" fill="#d84a70"/>
<circle cx="94.2" cy="594.7" r="1.35" fill="#d84a70"/>
<circle cx="97.7" cy="595.4" r="1.35" fill="#d84a70"/>
<circle cx="87.1" cy="598.2" r="1.35" fill="#d84a70"/>
<circle cx="94.2" cy="597.7" r="1.35" fill="#d84a70"/>
<circle cx="90.8" cy="600.3" r="1.35" fill="#d84a70"/>
<circle cx="94.2" cy="600.5" r="1.35" fill="#d84a70"/>
<circle cx="97.7" cy="600.3" r="1.35" fill="#d84a70"/>
<circle cx="90.3" cy="605.5" r="1.35" fill="#d84a70"/>
<circle cx="94.2" cy="604.9" r="1.35" fill="#d84a70"/>
<circle cx="97.7" cy="605.1" r="1.35" fill="#d84a70"/>
<circle cx="91" cy="592" r="1.35" fill="#d84a70"/>
<circle cx="119" cy="548.8" r="1.35" fill="#c8001e"/>
<circle cx="115.3" cy="554.3" r="1.35" fill="#c8001e"/>
<circle cx="119" cy="557" r="1.35" fill="#c8001e"/>
<circle cx="119" cy="564.7" r="1.35" fill="#c8001e"/>
<circle cx="119" cy="571" r="1.35" fill="#c8001e"/>
<circle cx="120.3" cy="584" r="1.35" fill="#c8001e"/>
<circle cx="117.5" cy="586.2" r="1.35" fill="#c8001e"/>
<circle cx="119" cy="590" r="1.35" fill="#c8001e"/>
<circle cx="115.3" cy="592.7" r="1.35" fill="#c8001e"/>
<circle cx="119" cy="594" r="1.35" fill="#c8001e"/>
<circle cx="115.3" cy="596.6" r="1.35" fill="#c8001e"/>
<circle cx="122.5" cy="597" r="1.35" fill="#c8001e"/>
<circle cx="119" cy="598.2" r="1.35" fill="#c8001e"/>
<circle cx="112" cy="601" r="1.35" fill="#c8001e"/>
<circle cx="126" cy="602.9" r="1.35" fill="#c8001e"/>
<circle cx="115.3" cy="602.9" r="1.35" fill="#c8001e"/>
<circle cx="119" cy="603.5" r="1.35" fill="#c8001e"/>
<circle cx="122.5" cy="603.7" r="1.35" fill="#c8001e"/>
<circle cx="115.3" cy="606.5" r="1.35" fill="#c8001e"/>
<circle cx="143.9" cy="560.7" r="1.35" fill="#3f2410"/>
<circle cx="143.9" cy="584.5" r="1.35" fill="#3f2410"/>
<circle cx="141" cy="602.1" r="1.35" fill="#3f2410"/>
<circle cx="146.9" cy="600.4" r="1.35" fill="#3f2410"/>
<circle cx="141" cy="606.5" r="1.35" fill="#3f2410"/>
<circle cx="146.9" cy="605.7" r="1.35" fill="#3f2410"/>
<line x1="69.2" y1="586.4" x2="69.2" y2="598" stroke="#eb98b0" stroke-width="0.9"/>
<line x1="65" y1="586.4" x2="73.4" y2="586.4" stroke="#eb98b0" stroke-width="0.9"/>
<line x1="65" y1="598" x2="73.4" y2="598" stroke="#eb98b0" stroke-width="0.9"/>
<line x1="94.2" y1="580.2" x2="94.2" y2="591.4" stroke="#dc6a8c" stroke-width="0.9"/>
<line x1="90" y1="580.2" x2="98.4" y2="580.2" stroke="#dc6a8c" stroke-width="0.9"/>
<line x1="90" y1="591.4" x2="98.4" y2="591.4" stroke="#dc6a8c" stroke-width="0.9"/>
<line x1="119.2" y1="582.5" x2="119.2" y2="590.8" stroke="#d22a50" stroke-width="0.9"/>
<line x1="115.1" y1="582.5" x2="123.3" y2="582.5" stroke="#d22a50" stroke-width="0.9"/>
<line x1="115.1" y1="590.8" x2="123.3" y2="590.8" stroke="#d22a50" stroke-width="0.9"/>
<line x1="143.9" y1="586.2" x2="143.9" y2="602" stroke="#5a3c20" stroke-width="0.9"/>
<line x1="139.9" y1="586.2" x2="147.9" y2="586.2" stroke="#5a3c20" stroke-width="0.9"/>
<line x1="139.9" y1="602" x2="147.9" y2="602" stroke="#5a3c20" stroke-width="0.9"/>
<line x1="52.3" y1="509.1" x2="52.3" y2="610.8" stroke="#262626" stroke-width="1.3"/>
<line x1="49.3" y1="610.2" x2="52.3" y2="610.2" stroke="#262626" stroke-width="1.3"/>
<text x="48.1" y="612.9" font-size="7.7" text-anchor="end" fill="#111" font-weight="normal" textLength="4.15" lengthAdjust="spacingAndGlyphs" stroke="#111" stroke-width="0.18" >0</text>
<line x1="49.3" y1="596.4" x2="52.3" y2="596.4" stroke="#262626" stroke-width="1.3"/>
<text x="48.1" y="599.1" font-size="7.7" text-anchor="end" fill="#111" font-weight="normal" textLength="12.46" lengthAdjust="spacingAndGlyphs" stroke="#111" stroke-width="0.18" >100</text>
<line x1="49.3" y1="582.6" x2="52.3" y2="582.6" stroke="#262626" stroke-width="1.3"/>
<text x="48.1" y="585.3" font-size="7.7" text-anchor="end" fill="#111" font-weight="normal" textLength="12.46" lengthAdjust="spacingAndGlyphs" stroke="#111" stroke-width="0.18" >200</text>
<line x1="49.3" y1="568.8" x2="52.3" y2="568.8" stroke="#262626" stroke-width="1.3"/>
<text x="48.1" y="571.5" font-size="7.7" text-anchor="end" fill="#111" font-weight="normal" textLength="12.46" lengthAdjust="spacingAndGlyphs" stroke="#111" stroke-width="0.18" >300</text>
<line x1="49.3" y1="555" x2="52.3" y2="555" stroke="#262626" stroke-width="1.3"/>
<text x="48.1" y="557.7" font-size="7.7" text-anchor="end" fill="#111" font-weight="normal" textLength="12.46" lengthAdjust="spacingAndGlyphs" stroke="#111" stroke-width="0.18" >400</text>
<line x1="49.3" y1="541.2" x2="52.3" y2="541.2" stroke="#262626" stroke-width="1.3"/>
<text x="48.1" y="543.9" font-size="7.7" text-anchor="end" fill="#111" font-weight="normal" textLength="12.46" lengthAdjust="spacingAndGlyphs" stroke="#111" stroke-width="0.18" >500</text>
<line x1="49.3" y1="527.4" x2="52.3" y2="527.4" stroke="#262626" stroke-width="1.3"/>
<text x="48.1" y="530.1" font-size="7.7" text-anchor="end" fill="#111" font-weight="normal" textLength="12.46" lengthAdjust="spacingAndGlyphs" stroke="#111" stroke-width="0.18" >600</text>
<line x1="49.3" y1="513.6" x2="52.3" y2="513.6" stroke="#262626" stroke-width="1.3"/>
<text x="48.1" y="516.3" font-size="7.7" text-anchor="end" fill="#111" font-weight="normal" textLength="12.46" lengthAdjust="spacingAndGlyphs" stroke="#111" stroke-width="0.18" >700</text>
<line x1="51.7" y1="610.2" x2="162" y2="610.2" stroke="#262626" stroke-width="1.3"/>
<line x1="69.2" y1="610.2" x2="69.2" y2="613.3" stroke="#262626" stroke-width="1.3"/>
<line x1="94.2" y1="610.2" x2="94.2" y2="613.3" stroke="#262626" stroke-width="1.3"/>
<line x1="119.2" y1="610.2" x2="119.2" y2="613.3" stroke="#262626" stroke-width="1.3"/>
<line x1="143.8" y1="610.2" x2="143.8" y2="613.3" stroke="#262626" stroke-width="1.3"/>
<text x="83.65" y="490.6" font-size="7.6" text-anchor="start" fill="#111" font-weight="normal" textLength="51" lengthAdjust="spacingAndGlyphs" stroke="#111" stroke-width="0.18" >NIH Grade 1–3</text>
<line x1="66.3" y1="504.4" x2="117.7" y2="504.4" stroke="#555" stroke-width="0.9"/>
<text x="93.3" y="500.8" font-size="6.6" text-anchor="middle" fill="#111" font-weight="normal" stroke="#111" stroke-width="0.18" >ns</text>
<line x1="67.3" y1="516.2" x2="90" y2="516.2" stroke="#555" stroke-width="0.9"/>
<text x="79.2" y="512.6" font-size="6.6" text-anchor="middle" fill="#111" font-weight="normal" stroke="#111" stroke-width="0.18" >ns</text>
<line x1="92.7" y1="516.2" x2="118.7" y2="516.2" stroke="#555" stroke-width="0.9"/>
<text x="103.5" y="512.6" font-size="6.6" text-anchor="middle" fill="#111" font-weight="normal" stroke="#111" stroke-width="0.18" >ns</text>
<line x1="121.2" y1="516.2" x2="144.6" y2="516.2" stroke="#555" stroke-width="0.9"/>
<text x="131.7" y="512.6" font-size="6.6" text-anchor="middle" fill="#111" font-weight="normal" stroke="#111" stroke-width="0.18" >ns</text>
<text transform="translate(28.8,559.7) rotate(-90)" x="0" y="0" font-size="9.9" font-weight="normal" stroke="#111" stroke-width="0.12" text-anchor="middle" fill="#111" textLength="42.6" lengthAdjust="spacingAndGlyphs">Reg3α ng/mL</text>
<text x="63" y="622" font-size="7.1" text-anchor="middle" fill="#111" font-weight="normal" textLength="36.4" lengthAdjust="spacingAndGlyphs" stroke="#111" stroke-width="0.18" >Esophageal</text>
<text x="93.3" y="622" font-size="7.1" text-anchor="middle" fill="#111" font-weight="normal" stroke="#111" stroke-width="0.18" >Upper</text>
<text x="117.5" y="622" font-size="7.1" text-anchor="middle" fill="#111" font-weight="normal" stroke="#111" stroke-width="0.18" >Lower</text>
<text x="147.1" y="622" font-size="7.1" text-anchor="middle" fill="#111" font-weight="normal" textLength="32.3" lengthAdjust="spacingAndGlyphs" stroke="#111" stroke-width="0.18" >Combined</text>
<text x="93.3" y="631.8" font-size="7.1" text-anchor="middle" fill="#111" font-weight="normal" stroke="#111" stroke-width="0.18" >GI</text>
<text x="117.5" y="631.8" font-size="7.1" text-anchor="middle" fill="#111" font-weight="normal" stroke="#111" stroke-width="0.18" >GI</text>
<text x="45.6" y="641.7" font-size="7.2" text-anchor="start" fill="#111" font-weight="normal" stroke="#111" stroke-width="0.18" >n:</text>
<text x="69" y="641.7" font-size="7.2" text-anchor="middle" fill="#111" font-weight="normal" stroke="#111" stroke-width="0.18" >19</text>
<text x="93.8" y="641.7" font-size="7.2" text-anchor="middle" fill="#111" font-weight="normal" stroke="#111" stroke-width="0.18" >19</text>
<text x="118.9" y="641.7" font-size="7.2" text-anchor="middle" fill="#111" font-weight="normal" stroke="#111" stroke-width="0.18" >19</text>
<text x="143.6" y="641.7" font-size="7.2" text-anchor="middle" fill="#111" font-weight="normal" stroke="#111" stroke-width="0.18" >6</text>
<rect x="237" y="585.5" width="15.7" height="24.2" fill="#f5d3db" stroke="#efbccb" stroke-width="0.9"/>
<rect x="261.9" y="575.8" width="15.5" height="33.9" fill="#eba3b3" stroke="#e28ea2" stroke-width="0.9"/>
<rect x="287.3" y="593" width="15" height="16.7" fill="#e06c8a" stroke="#d85479" stroke-width="0.9"/>
<rect x="312" y="588.9" width="15.2" height="20.8" fill="#8c6440" stroke="#7a5535" stroke-width="0.9"/>
<circle cx="244.8" cy="524.6" r="1.35" fill="#e38aa6"/>
<circle cx="244.6" cy="587.3" r="1.35" fill="#e38aa6"/>
<circle cx="241.5" cy="602.8" r="1.35" fill="#e38aa6"/>
<circle cx="247.8" cy="603.5" r="1.35" fill="#e38aa6"/>
<circle cx="244.6" cy="606" r="1.35" fill="#e38aa6"/>
<circle cx="269.8" cy="529.4" r="1.35" fill="#d84a70"/>
<circle cx="269.5" cy="564.5" r="1.35" fill="#d84a70"/>
<circle cx="269.5" cy="587.5" r="1.35" fill="#d84a70"/>
<circle cx="269.5" cy="594.5" r="1.35" fill="#d84a70"/>
<circle cx="269.5" cy="600" r="1.35" fill="#d84a70"/>
<circle cx="295.1" cy="555" r="1.35" fill="#c8001e"/>
<circle cx="294.9" cy="596.7" r="1.35" fill="#c8001e"/>
<circle cx="288.4" cy="603.5" r="1.35" fill="#c8001e"/>
<circle cx="294.9" cy="601.4" r="1.35" fill="#c8001e"/>
<circle cx="302.1" cy="603.5" r="1.35" fill="#c8001e"/>
<circle cx="319.6" cy="560.5" r="1.35" fill="#3f2410"/>
<circle cx="319.6" cy="584.3" r="1.35" fill="#3f2410"/>
<circle cx="319.6" cy="601.4" r="1.35" fill="#3f2410"/>
<circle cx="319.6" cy="607.4" r="1.35" fill="#3f2410"/>
<line x1="244.6" y1="569.3" x2="244.6" y2="600.5" stroke="#eb98b0" stroke-width="0.9"/>
<line x1="240.6" y1="569.3" x2="248.6" y2="569.3" stroke="#eb98b0" stroke-width="0.9"/>
<line x1="240.6" y1="600.5" x2="248.6" y2="600.5" stroke="#eb98b0" stroke-width="0.9"/>
<line x1="269.5" y1="562.4" x2="269.5" y2="588" stroke="#dc6a8c" stroke-width="0.9"/>
<line x1="265.5" y1="562.4" x2="273.5" y2="562.4" stroke="#dc6a8c" stroke-width="0.9"/>
<line x1="265.5" y1="588" x2="273.5" y2="588" stroke="#dc6a8c" stroke-width="0.9"/>
<line x1="294.9" y1="582.2" x2="294.9" y2="601.6" stroke="#d22a50" stroke-width="0.9"/>
<line x1="290.9" y1="582.2" x2="298.9" y2="582.2" stroke="#d22a50" stroke-width="0.9"/>
<line x1="290.9" y1="601.6" x2="298.9" y2="601.6" stroke="#d22a50" stroke-width="0.9"/>
<line x1="319.6" y1="577.4" x2="319.6" y2="598.2" stroke="#5a3c20" stroke-width="0.9"/>
<line x1="315.6" y1="577.4" x2="323.6" y2="577.4" stroke="#5a3c20" stroke-width="0.9"/>
<line x1="315.6" y1="598.2" x2="323.6" y2="598.2" stroke="#5a3c20" stroke-width="0.9"/>
<line x1="228.3" y1="509.3" x2="228.3" y2="610.3" stroke="#262626" stroke-width="1.3"/>
<line x1="225.3" y1="609.7" x2="228.3" y2="609.7" stroke="#262626" stroke-width="1.3"/>
<text x="224.1" y="612.4" font-size="7.7" text-anchor="end" fill="#111" font-weight="normal" textLength="4.15" lengthAdjust="spacingAndGlyphs" stroke="#111" stroke-width="0.18" >0</text>
<line x1="225.3" y1="596" x2="228.3" y2="596" stroke="#262626" stroke-width="1.3"/>
<text x="224.1" y="598.7" font-size="7.7" text-anchor="end" fill="#111" font-weight="normal" textLength="12.46" lengthAdjust="spacingAndGlyphs" stroke="#111" stroke-width="0.18" >100</text>
<line x1="225.3" y1="582.3" x2="228.3" y2="582.3" stroke="#262626" stroke-width="1.3"/>
<text x="224.1" y="585" font-size="7.7" text-anchor="end" fill="#111" font-weight="normal" textLength="12.46" lengthAdjust="spacingAndGlyphs" stroke="#111" stroke-width="0.18" >200</text>
<line x1="225.3" y1="568.6" x2="228.3" y2="568.6" stroke="#262626" stroke-width="1.3"/>
<text x="224.1" y="571.3" font-size="7.7" text-anchor="end" fill="#111" font-weight="normal" textLength="12.46" lengthAdjust="spacingAndGlyphs" stroke="#111" stroke-width="0.18" >300</text>
<line x1="225.3" y1="554.9" x2="228.3" y2="554.9" stroke="#262626" stroke-width="1.3"/>
<text x="224.1" y="557.6" font-size="7.7" text-anchor="end" fill="#111" font-weight="normal" textLength="12.46" lengthAdjust="spacingAndGlyphs" stroke="#111" stroke-width="0.18" >400</text>
<line x1="225.3" y1="541.2" x2="228.3" y2="541.2" stroke="#262626" stroke-width="1.3"/>
<text x="224.1" y="543.9" font-size="7.7" text-anchor="end" fill="#111" font-weight="normal" textLength="12.46" lengthAdjust="spacingAndGlyphs" stroke="#111" stroke-width="0.18" >500</text>
<line x1="225.3" y1="527.5" x2="228.3" y2="527.5" stroke="#262626" stroke-width="1.3"/>
<text x="224.1" y="530.2" font-size="7.7" text-anchor="end" fill="#111" font-weight="normal" textLength="12.46" lengthAdjust="spacingAndGlyphs" stroke="#111" stroke-width="0.18" >600</text>
<line x1="225.3" y1="513.8" x2="228.3" y2="513.8" stroke="#262626" stroke-width="1.3"/>
<text x="224.1" y="516.5" font-size="7.7" text-anchor="end" fill="#111" font-weight="normal" textLength="12.46" lengthAdjust="spacingAndGlyphs" stroke="#111" stroke-width="0.18" >700</text>
<line x1="227.7" y1="609.7" x2="337.6" y2="609.7" stroke="#262626" stroke-width="1.3"/>
<line x1="244.6" y1="609.7" x2="244.6" y2="612.8" stroke="#262626" stroke-width="1.3"/>
<line x1="269.5" y1="609.7" x2="269.5" y2="612.8" stroke="#262626" stroke-width="1.3"/>
<line x1="294.9" y1="609.7" x2="294.9" y2="612.8" stroke="#262626" stroke-width="1.3"/>
<line x1="319.6" y1="609.7" x2="319.6" y2="612.8" stroke="#262626" stroke-width="1.3"/>
<text x="257.2" y="490.8" font-size="7.6" text-anchor="start" fill="#111" font-weight="normal" textLength="51.3" lengthAdjust="spacingAndGlyphs" stroke="#111" stroke-width="0.18" >NIH Grade 2–3</text>
<line x1="243.8" y1="504.2" x2="295.1" y2="504.2" stroke="#555" stroke-width="0.9"/>
<text x="268.8" y="500.6" font-size="6.6" text-anchor="middle" fill="#111" font-weight="normal" stroke="#111" stroke-width="0.18" >ns</text>
<line x1="243.8" y1="516.5" x2="266.2" y2="516.5" stroke="#555" stroke-width="0.9"/>
<text x="255.4" y="512.9" font-size="6.6" text-anchor="middle" fill="#111" font-weight="normal" stroke="#111" stroke-width="0.18" >ns</text>
<line x1="269.2" y1="516.5" x2="295.1" y2="516.5" stroke="#555" stroke-width="0.9"/>
<text x="280.8" y="512.9" font-size="6.6" text-anchor="middle" fill="#111" font-weight="normal" stroke="#111" stroke-width="0.18" >ns</text>
<line x1="297.6" y1="516.5" x2="321.6" y2="516.5" stroke="#555" stroke-width="0.9"/>
<text x="308" y="512.9" font-size="6.6" text-anchor="middle" fill="#111" font-weight="normal" stroke="#111" stroke-width="0.18" >ns</text>
<text transform="translate(205,559.4) rotate(-90)" x="0" y="0" font-size="9.9" font-weight="normal" stroke="#111" stroke-width="0.12" text-anchor="middle" fill="#111" textLength="40.9" lengthAdjust="spacingAndGlyphs">Reg3α ng/mL</text>
<text x="238" y="622.5" font-size="7.1" text-anchor="middle" fill="#111" font-weight="normal" textLength="36.6" lengthAdjust="spacingAndGlyphs" stroke="#111" stroke-width="0.18" >Esophageal</text>
<text x="267.6" y="622.5" font-size="7.1" text-anchor="middle" fill="#111" font-weight="normal" stroke="#111" stroke-width="0.18" >Upper</text>
<text x="292.3" y="622.5" font-size="7.1" text-anchor="middle" fill="#111" font-weight="normal" stroke="#111" stroke-width="0.18" >Lower</text>
<text x="321.1" y="622.5" font-size="7.1" text-anchor="middle" fill="#111" font-weight="normal" textLength="31.7" lengthAdjust="spacingAndGlyphs" stroke="#111" stroke-width="0.18" >Combined</text>
<text x="269.2" y="632.3" font-size="7.1" text-anchor="middle" fill="#111" font-weight="normal" stroke="#111" stroke-width="0.18" >GI</text>
<text x="292.3" y="632.3" font-size="7.1" text-anchor="middle" fill="#111" font-weight="normal" stroke="#111" stroke-width="0.18" >GI</text>
<text x="221.6" y="642" font-size="7.2" text-anchor="start" fill="#111" font-weight="normal" stroke="#111" stroke-width="0.18" >n:</text>
<text x="244.7" y="642" font-size="7.2" text-anchor="middle" fill="#111" font-weight="normal" stroke="#111" stroke-width="0.18" >5</text>
<text x="269.8" y="642" font-size="7.2" text-anchor="middle" fill="#111" font-weight="normal" stroke="#111" stroke-width="0.18" >5</text>
<text x="295.2" y="642" font-size="7.2" text-anchor="middle" fill="#111" font-weight="normal" stroke="#111" stroke-width="0.18" >5</text>
<text x="321.1" y="642" font-size="7.2" text-anchor="middle" fill="#111" font-weight="normal" stroke="#111" stroke-width="0.18" >4</text>
<rect x="422" y="562.5" width="22.9" height="47.9" fill="#134c7e"/>
<rect x="422" y="519.7" width="22.9" height="42.8" fill="#c8102e"/>
<rect x="422" y="514.3" width="22.9" height="5.4" fill="#46b450"/>
<rect x="470.4" y="536.3" width="22.6" height="74.1" fill="#134c7e"/>
<rect x="470.4" y="514.3" width="22.6" height="22" fill="#c8102e"/>
<line x1="403" y1="509.4" x2="403" y2="611" stroke="#262626" stroke-width="1.3"/>
<line x1="400" y1="610.4" x2="403" y2="610.4" stroke="#262626" stroke-width="1.3"/>
<text x="399.2" y="613.1" font-size="7.7" text-anchor="end" fill="#111" font-weight="normal" textLength="4.15" lengthAdjust="spacingAndGlyphs" stroke="#111" stroke-width="0.18" >0</text>
<line x1="400" y1="562.35" x2="403" y2="562.35" stroke="#262626" stroke-width="1.3"/>
<text x="399.2" y="565.05" font-size="7.7" text-anchor="end" fill="#111" font-weight="normal" textLength="8.31" lengthAdjust="spacingAndGlyphs" stroke="#111" stroke-width="0.18" >50</text>
<line x1="400" y1="514.3" x2="403" y2="514.3" stroke="#262626" stroke-width="1.3"/>
<text x="399.2" y="517" font-size="7.7" text-anchor="end" fill="#111" font-weight="normal" textLength="12.46" lengthAdjust="spacingAndGlyphs" stroke="#111" stroke-width="0.18" >100</text>
<line x1="402.4" y1="610.4" x2="513.3" y2="610.4" stroke="#262626" stroke-width="1.3"/>
<line x1="433.8" y1="610.4" x2="433.8" y2="613.5" stroke="#262626" stroke-width="1.3"/>
<line x1="480.9" y1="610.4" x2="480.9" y2="613.5" stroke="#262626" stroke-width="1.3"/>
<text x="433.5" y="519.7" font-size="5.6" text-anchor="middle" fill="#f4f4f4" font-weight="normal" stroke="none">6%</text>
<text x="433.5" y="542.3" font-size="7" text-anchor="middle" fill="#f4f4f4" font-weight="normal" stroke="none">44%</text>
<text x="433.5" y="587.3" font-size="7" text-anchor="middle" fill="#f4f4f4" font-weight="normal" stroke="none">50%</text>
<text x="481.7" y="528.6" font-size="7" text-anchor="middle" fill="#f4f4f4" font-weight="normal" stroke="none">23%</text>
<text x="481.7" y="572.5" font-size="7" text-anchor="middle" fill="#f4f4f4" font-weight="normal" stroke="none">77%</text>
<text x="433" y="622.5" font-size="7.6" text-anchor="middle" fill="#111" font-weight="normal" textLength="40.4" lengthAdjust="spacingAndGlyphs" stroke="#111" stroke-width="0.18" >≥180 ng/mL</text>
<text x="481" y="622.5" font-size="7.6" text-anchor="middle" fill="#111" font-weight="normal" textLength="40.4" lengthAdjust="spacingAndGlyphs" stroke="#111" stroke-width="0.18" >&lt;180 ng/mL</text>
<text x="457.2" y="634.5" font-size="9" text-anchor="middle" fill="#111" font-weight="normal" textLength="36.2" lengthAdjust="spacingAndGlyphs" stroke="#111" stroke-width="0.4">Max GI score</text>
<rect x="389.4" y="642.2" width="10" height="5.3" fill="#134c7e"/>
<rect x="433.8" y="642.2" width="8.4" height="5.3" fill="#c8102e"/>
<rect x="475.6" y="642.2" width="9.4" height="5.3" fill="#46b450"/>
<text x="402.9" y="647.5" font-size="6.9" text-anchor="start" fill="#111" font-weight="normal" textLength="25" lengthAdjust="spacingAndGlyphs" stroke="#111" stroke-width="0.18" >Grade 1</text>
<text x="446" y="647.5" font-size="6.9" text-anchor="start" fill="#111" font-weight="normal" textLength="25" lengthAdjust="spacingAndGlyphs" stroke="#111" stroke-width="0.18" >Grade 2</text>
<text x="488.5" y="647.5" font-size="6.9" text-anchor="start" fill="#111" font-weight="normal" textLength="25.3" lengthAdjust="spacingAndGlyphs" stroke="#111" stroke-width="0.18" >Grade 3</text>
<text transform="translate(384.2,559.4) rotate(-90)" x="0" y="0" font-size="10" font-weight="normal" stroke="#111" stroke-width="0.3" text-anchor="middle" fill="#111" textLength="31.2" lengthAdjust="spacingAndGlyphs">Percentage</text>
</svg></body></html>
